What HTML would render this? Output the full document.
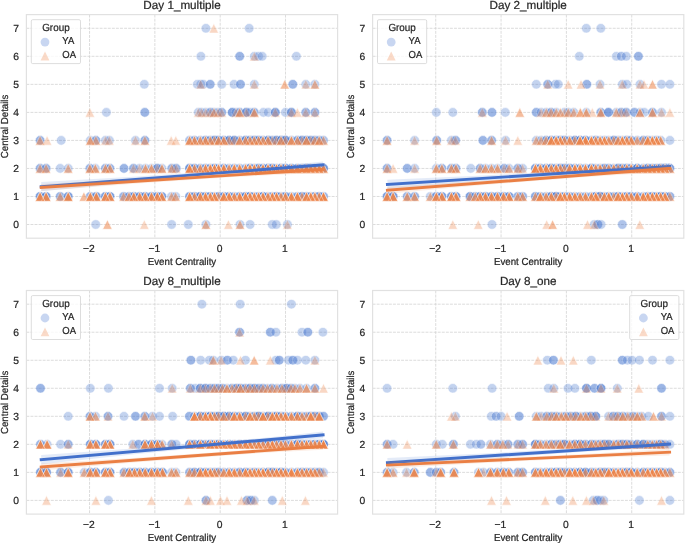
<!DOCTYPE html>
<html><head><meta charset="utf-8"><title>Central Details vs Event Centrality</title>
<style>html,body{margin:0;padding:0;background:#fff}svg{display:block}</style></head>
<body>
<svg width="685" height="543" viewBox="0 0 685 543" font-family="'Liberation Sans', sans-serif" fill="#262626" text-rendering="geometricPrecision">
<rect width="685" height="543" fill="#fff"/>
<g>
<path d="M89.54 14.60V238.20M154.87 14.60V238.20M220.20 14.60V238.20M285.53 14.60V238.20M26.40 224.50H337.60M26.40 196.47H337.60M26.40 168.44H337.60M26.40 140.41H337.60M26.40 112.38H337.60M26.40 84.35H337.60M26.40 56.32H337.60M26.40 28.29H337.60" stroke="#d3d3d3" stroke-width="0.8" stroke-dasharray="2.95 1.12" fill="none"/>
<g fill="#4878d0" stroke="#fff" stroke-width="0.6" stroke-linejoin="miter"><circle cx="95.7" cy="224.5" r="4.8" opacity="0.32"/><circle cx="171.6" cy="224.5" r="4.8" opacity="0.32"/><circle cx="188.3" cy="224.5" r="4.8" opacity="0.32"/><circle cx="205.9" cy="224.5" r="4.8" opacity="0.32"/><circle cx="240.0" cy="224.5" r="4.8" opacity="0.32"/><circle cx="250.1" cy="224.5" r="4.8" opacity="0.32"/><circle cx="272.3" cy="224.5" r="4.8" opacity="0.32"/><circle cx="276.3" cy="224.5" r="4.8" opacity="0.32"/><circle cx="287.4" cy="224.5" r="4.8" opacity="0.32"/><circle cx="40.1" cy="196.5" r="4.8" opacity="0.69"/><circle cx="46.1" cy="196.5" r="4.8" opacity="0.69"/><circle cx="60.2" cy="196.5" r="4.8" opacity="0.54"/><circle cx="68.2" cy="196.5" r="4.8" opacity="0.69"/><circle cx="90.3" cy="196.5" r="4.8" opacity="0.54"/><circle cx="96.3" cy="196.5" r="4.8" opacity="0.69"/><circle cx="105.4" cy="196.5" r="4.8" opacity="0.69"/><circle cx="110.0" cy="196.5" r="4.8" opacity="0.69"/><circle cx="123.6" cy="196.5" r="4.8" opacity="0.54"/><circle cx="129.0" cy="196.5" r="4.8" opacity="0.54"/><circle cx="133.8" cy="196.5" r="4.8" opacity="0.69"/><circle cx="139.7" cy="196.5" r="4.8" opacity="0.69"/><circle cx="145.2" cy="196.5" r="4.8" opacity="0.69"/><circle cx="151.5" cy="196.5" r="4.8" opacity="0.69"/><circle cx="157.3" cy="196.5" r="4.8" opacity="0.69"/><circle cx="161.8" cy="196.5" r="4.8" opacity="0.69"/><circle cx="171.5" cy="196.5" r="4.8" opacity="0.32"/><circle cx="175.7" cy="196.5" r="4.8" opacity="0.32"/><circle cx="189.6" cy="196.5" r="4.8" opacity="0.69"/><circle cx="194.5" cy="196.5" r="4.8" opacity="0.62"/><circle cx="200.3" cy="196.5" r="4.8" opacity="0.85"/><circle cx="205.5" cy="196.5" r="4.8" opacity="0.69"/><circle cx="210.3" cy="196.5" r="4.8" opacity="0.69"/><circle cx="214.5" cy="196.5" r="4.8" opacity="0.44"/><circle cx="218.6" cy="196.5" r="4.8" opacity="0.62"/><circle cx="223.8" cy="196.5" r="4.8" opacity="0.69"/><circle cx="229.1" cy="196.5" r="4.8" opacity="0.69"/><circle cx="234.3" cy="196.5" r="4.8" opacity="0.44"/><circle cx="239.7" cy="196.5" r="4.8" opacity="0.62"/><circle cx="245.6" cy="196.5" r="4.8" opacity="0.79"/><circle cx="250.0" cy="196.5" r="4.8" opacity="0.85"/><circle cx="254.3" cy="196.5" r="4.8" opacity="0.44"/><circle cx="258.6" cy="196.5" r="4.8" opacity="0.54"/><circle cx="263.0" cy="196.5" r="4.8" opacity="0.79"/><circle cx="268.0" cy="196.5" r="4.8" opacity="0.44"/><circle cx="272.3" cy="196.5" r="4.8" opacity="0.54"/><circle cx="276.5" cy="196.5" r="4.8" opacity="0.79"/><circle cx="281.0" cy="196.5" r="4.8" opacity="0.44"/><circle cx="285.4" cy="196.5" r="4.8" opacity="0.69"/><circle cx="291.4" cy="196.5" r="4.8" opacity="0.44"/><circle cx="297.4" cy="196.5" r="4.8" opacity="0.54"/><circle cx="302.0" cy="196.5" r="4.8" opacity="0.69"/><circle cx="306.5" cy="196.5" r="4.8" opacity="0.62"/><circle cx="310.8" cy="196.5" r="4.8" opacity="0.54"/><circle cx="314.9" cy="196.5" r="4.8" opacity="0.62"/><circle cx="319.2" cy="196.5" r="4.8" opacity="0.69"/><circle cx="323.5" cy="196.5" r="4.8" opacity="0.54"/><circle cx="40.1" cy="168.4" r="4.8" opacity="0.54"/><circle cx="46.1" cy="168.4" r="4.8" opacity="0.54"/><circle cx="60.2" cy="168.4" r="4.8" opacity="0.32"/><circle cx="68.2" cy="168.4" r="4.8" opacity="0.32"/><circle cx="89.9" cy="168.4" r="4.8" opacity="0.54"/><circle cx="95.3" cy="168.4" r="4.8" opacity="0.32"/><circle cx="105.4" cy="168.4" r="4.8" opacity="0.54"/><circle cx="110.0" cy="168.4" r="4.8" opacity="0.54"/><circle cx="124.0" cy="168.4" r="4.8" opacity="0.54"/><circle cx="133.5" cy="168.4" r="4.8" opacity="0.54"/><circle cx="139.5" cy="168.4" r="4.8" opacity="0.32"/><circle cx="145.5" cy="168.4" r="4.8" opacity="0.32"/><circle cx="151.5" cy="168.4" r="4.8" opacity="0.32"/><circle cx="157.3" cy="168.4" r="4.8" opacity="0.69"/><circle cx="162.0" cy="168.4" r="4.8" opacity="0.32"/><circle cx="171.8" cy="168.4" r="4.8" opacity="0.54"/><circle cx="176.2" cy="168.4" r="4.8" opacity="0.54"/><circle cx="189.6" cy="168.4" r="4.8" opacity="0.79"/><circle cx="194.5" cy="168.4" r="4.8" opacity="0.69"/><circle cx="200.3" cy="168.4" r="4.8" opacity="0.54"/><circle cx="205.5" cy="168.4" r="4.8" opacity="0.62"/><circle cx="210.3" cy="168.4" r="4.8" opacity="0.54"/><circle cx="214.5" cy="168.4" r="4.8" opacity="0.79"/><circle cx="218.6" cy="168.4" r="4.8" opacity="0.44"/><circle cx="223.8" cy="168.4" r="4.8" opacity="0.69"/><circle cx="229.1" cy="168.4" r="4.8" opacity="0.44"/><circle cx="234.3" cy="168.4" r="4.8" opacity="0.54"/><circle cx="239.7" cy="168.4" r="4.8" opacity="0.44"/><circle cx="245.6" cy="168.4" r="4.8" opacity="0.44"/><circle cx="250.0" cy="168.4" r="4.8" opacity="0.79"/><circle cx="254.3" cy="168.4" r="4.8" opacity="0.54"/><circle cx="258.6" cy="168.4" r="4.8" opacity="0.79"/><circle cx="263.0" cy="168.4" r="4.8" opacity="0.62"/><circle cx="268.0" cy="168.4" r="4.8" opacity="0.85"/><circle cx="272.3" cy="168.4" r="4.8" opacity="0.85"/><circle cx="276.5" cy="168.4" r="4.8" opacity="0.44"/><circle cx="281.0" cy="168.4" r="4.8" opacity="0.79"/><circle cx="285.4" cy="168.4" r="4.8" opacity="0.85"/><circle cx="291.4" cy="168.4" r="4.8" opacity="0.69"/><circle cx="297.4" cy="168.4" r="4.8" opacity="0.62"/><circle cx="302.0" cy="168.4" r="4.8" opacity="0.44"/><circle cx="306.5" cy="168.4" r="4.8" opacity="0.69"/><circle cx="310.8" cy="168.4" r="4.8" opacity="0.44"/><circle cx="314.9" cy="168.4" r="4.8" opacity="0.44"/><circle cx="319.2" cy="168.4" r="4.8" opacity="0.62"/><circle cx="323.5" cy="168.4" r="4.8" opacity="0.79"/><circle cx="40.1" cy="140.4" r="4.8" opacity="0.54"/><circle cx="61.2" cy="140.4" r="4.8" opacity="0.32"/><circle cx="90.3" cy="140.4" r="4.8" opacity="0.32"/><circle cx="95.9" cy="140.4" r="4.8" opacity="0.54"/><circle cx="105.4" cy="140.4" r="4.8" opacity="0.32"/><circle cx="109.4" cy="140.4" r="4.8" opacity="0.32"/><circle cx="135.5" cy="140.4" r="4.8" opacity="0.32"/><circle cx="144.9" cy="140.4" r="4.8" opacity="0.54"/><circle cx="189.6" cy="140.4" r="4.8" opacity="0.44"/><circle cx="194.5" cy="140.4" r="4.8" opacity="0.54"/><circle cx="200.3" cy="140.4" r="4.8" opacity="0.44"/><circle cx="205.5" cy="140.4" r="4.8" opacity="0.69"/><circle cx="210.3" cy="140.4" r="4.8" opacity="0.54"/><circle cx="214.5" cy="140.4" r="4.8" opacity="0.85"/><circle cx="218.6" cy="140.4" r="4.8" opacity="0.79"/><circle cx="223.8" cy="140.4" r="4.8" opacity="0.69"/><circle cx="229.1" cy="140.4" r="4.8" opacity="0.79"/><circle cx="234.3" cy="140.4" r="4.8" opacity="0.79"/><circle cx="239.7" cy="140.4" r="4.8" opacity="0.44"/><circle cx="245.6" cy="140.4" r="4.8" opacity="0.85"/><circle cx="250.0" cy="140.4" r="4.8" opacity="0.69"/><circle cx="254.3" cy="140.4" r="4.8" opacity="0.85"/><circle cx="258.6" cy="140.4" r="4.8" opacity="0.79"/><circle cx="263.0" cy="140.4" r="4.8" opacity="0.54"/><circle cx="268.0" cy="140.4" r="4.8" opacity="0.85"/><circle cx="272.3" cy="140.4" r="4.8" opacity="0.54"/><circle cx="276.5" cy="140.4" r="4.8" opacity="0.79"/><circle cx="281.0" cy="140.4" r="4.8" opacity="0.85"/><circle cx="285.4" cy="140.4" r="4.8" opacity="0.85"/><circle cx="291.4" cy="140.4" r="4.8" opacity="0.44"/><circle cx="297.4" cy="140.4" r="4.8" opacity="0.62"/><circle cx="302.0" cy="140.4" r="4.8" opacity="0.79"/><circle cx="306.5" cy="140.4" r="4.8" opacity="0.79"/><circle cx="310.8" cy="140.4" r="4.8" opacity="0.69"/><circle cx="314.9" cy="140.4" r="4.8" opacity="0.62"/><circle cx="319.2" cy="140.4" r="4.8" opacity="0.54"/><circle cx="323.5" cy="140.4" r="4.8" opacity="0.44"/><circle cx="106.4" cy="112.4" r="4.8" opacity="0.32"/><circle cx="144.8" cy="112.4" r="4.8" opacity="0.54"/><circle cx="198.3" cy="112.4" r="4.8" opacity="0.32"/><circle cx="201.5" cy="112.4" r="4.8" opacity="0.32"/><circle cx="205.9" cy="112.4" r="4.8" opacity="0.32"/><circle cx="210.4" cy="112.4" r="4.8" opacity="0.54"/><circle cx="214.0" cy="112.4" r="4.8" opacity="0.32"/><circle cx="218.0" cy="112.4" r="4.8" opacity="0.32"/><circle cx="221.7" cy="112.4" r="4.8" opacity="0.54"/><circle cx="232.2" cy="112.4" r="4.8" opacity="0.69"/><circle cx="236.0" cy="112.4" r="4.8" opacity="0.32"/><circle cx="239.7" cy="112.4" r="4.8" opacity="0.54"/><circle cx="246.3" cy="112.4" r="4.8" opacity="0.69"/><circle cx="250.0" cy="112.4" r="4.8" opacity="0.32"/><circle cx="254.3" cy="112.4" r="4.8" opacity="0.54"/><circle cx="263.4" cy="112.4" r="4.8" opacity="0.32"/><circle cx="268.3" cy="112.4" r="4.8" opacity="0.32"/><circle cx="275.3" cy="112.4" r="4.8" opacity="0.69"/><circle cx="285.4" cy="112.4" r="4.8" opacity="0.32"/><circle cx="291.4" cy="112.4" r="4.8" opacity="0.69"/><circle cx="305.8" cy="112.4" r="4.8" opacity="0.54"/><circle cx="314.9" cy="112.4" r="4.8" opacity="0.54"/><circle cx="144.3" cy="84.3" r="4.8" opacity="0.32"/><circle cx="197.3" cy="84.3" r="4.8" opacity="0.32"/><circle cx="200.7" cy="84.3" r="4.8" opacity="0.32"/><circle cx="203.3" cy="84.3" r="4.8" opacity="0.32"/><circle cx="210.2" cy="84.3" r="4.8" opacity="0.54"/><circle cx="221.7" cy="84.3" r="4.8" opacity="0.32"/><circle cx="234.0" cy="84.3" r="4.8" opacity="0.32"/><circle cx="240.5" cy="84.3" r="4.8" opacity="0.54"/><circle cx="254.3" cy="84.3" r="4.8" opacity="0.32"/><circle cx="292.8" cy="84.3" r="4.8" opacity="0.54"/><circle cx="305.8" cy="84.3" r="4.8" opacity="0.32"/><circle cx="314.9" cy="84.3" r="4.8" opacity="0.32"/><circle cx="200.9" cy="56.3" r="4.8" opacity="0.32"/><circle cx="239.7" cy="56.3" r="4.8" opacity="0.54"/><circle cx="254.3" cy="56.3" r="4.8" opacity="0.32"/><circle cx="258.6" cy="56.3" r="4.8" opacity="0.32"/><circle cx="262.2" cy="56.3" r="4.8" opacity="0.32"/><circle cx="296.4" cy="56.3" r="4.8" opacity="0.32"/><circle cx="205.9" cy="28.3" r="4.8" opacity="0.32"/><circle cx="249.2" cy="28.3" r="4.8" opacity="0.32"/></g>
<g fill="#ee854a" stroke="#fff" stroke-width="0.6" stroke-linejoin="miter"><path d="M107.4 219.7l4.8 9.6h-9.6z" opacity="0.54"/><path d="M144.3 219.7l4.8 9.6h-9.6z" opacity="0.32"/><path d="M205.9 219.7l4.8 9.6h-9.6z" opacity="0.54"/><path d="M228.4 219.7l4.8 9.6h-9.6z" opacity="0.32"/><path d="M240.0 219.7l4.8 9.6h-9.6z" opacity="0.54"/><path d="M287.4 219.7l4.8 9.6h-9.6z" opacity="0.32"/><path d="M40.1 191.7l4.8 9.6h-9.6z" opacity="0.69"/><path d="M46.1 191.7l4.8 9.6h-9.6z" opacity="0.69"/><path d="M60.2 191.7l4.8 9.6h-9.6z" opacity="0.54"/><path d="M68.2 191.7l4.8 9.6h-9.6z" opacity="0.69"/><path d="M83.9 191.7l4.8 9.6h-9.6z" opacity="0.54"/><path d="M90.3 191.7l4.8 9.6h-9.6z" opacity="0.69"/><path d="M96.3 191.7l4.8 9.6h-9.6z" opacity="0.69"/><path d="M105.4 191.7l4.8 9.6h-9.6z" opacity="0.69"/><path d="M110.0 191.7l4.8 9.6h-9.6z" opacity="0.69"/><path d="M123.6 191.7l4.8 9.6h-9.6z" opacity="0.54"/><path d="M129.0 191.7l4.8 9.6h-9.6z" opacity="0.44"/><path d="M133.8 191.7l4.8 9.6h-9.6z" opacity="0.69"/><path d="M139.7 191.7l4.8 9.6h-9.6z" opacity="0.69"/><path d="M145.2 191.7l4.8 9.6h-9.6z" opacity="0.69"/><path d="M151.5 191.7l4.8 9.6h-9.6z" opacity="0.69"/><path d="M157.3 191.7l4.8 9.6h-9.6z" opacity="0.69"/><path d="M161.8 191.7l4.8 9.6h-9.6z" opacity="0.69"/><path d="M171.5 191.7l4.8 9.6h-9.6z" opacity="0.54"/><path d="M175.7 191.7l4.8 9.6h-9.6z" opacity="0.54"/><path d="M189.6 191.7l4.8 9.6h-9.6z" opacity="0.79"/><path d="M194.5 191.7l4.8 9.6h-9.6z" opacity="0.54"/><path d="M200.3 191.7l4.8 9.6h-9.6z" opacity="0.73"/><path d="M205.5 191.7l4.8 9.6h-9.6z" opacity="0.79"/><path d="M210.3 191.7l4.8 9.6h-9.6z" opacity="0.73"/><path d="M214.5 191.7l4.8 9.6h-9.6z" opacity="0.79"/><path d="M218.6 191.7l4.8 9.6h-9.6z" opacity="0.66"/><path d="M223.8 191.7l4.8 9.6h-9.6z" opacity="0.79"/><path d="M229.1 191.7l4.8 9.6h-9.6z" opacity="0.79"/><path d="M234.3 191.7l4.8 9.6h-9.6z" opacity="0.66"/><path d="M239.7 191.7l4.8 9.6h-9.6z" opacity="0.79"/><path d="M245.6 191.7l4.8 9.6h-9.6z" opacity="0.79"/><path d="M250.0 191.7l4.8 9.6h-9.6z" opacity="0.79"/><path d="M254.3 191.7l4.8 9.6h-9.6z" opacity="0.79"/><path d="M258.6 191.7l4.8 9.6h-9.6z" opacity="0.79"/><path d="M263.0 191.7l4.8 9.6h-9.6z" opacity="0.79"/><path d="M268.0 191.7l4.8 9.6h-9.6z" opacity="0.66"/><path d="M272.3 191.7l4.8 9.6h-9.6z" opacity="0.79"/><path d="M276.5 191.7l4.8 9.6h-9.6z" opacity="0.79"/><path d="M281.0 191.7l4.8 9.6h-9.6z" opacity="0.54"/><path d="M285.4 191.7l4.8 9.6h-9.6z" opacity="0.66"/><path d="M291.4 191.7l4.8 9.6h-9.6z" opacity="0.79"/><path d="M297.4 191.7l4.8 9.6h-9.6z" opacity="0.79"/><path d="M302.0 191.7l4.8 9.6h-9.6z" opacity="0.66"/><path d="M306.5 191.7l4.8 9.6h-9.6z" opacity="0.73"/><path d="M310.8 191.7l4.8 9.6h-9.6z" opacity="0.84"/><path d="M314.9 191.7l4.8 9.6h-9.6z" opacity="0.73"/><path d="M319.2 191.7l4.8 9.6h-9.6z" opacity="0.54"/><path d="M323.5 191.7l4.8 9.6h-9.6z" opacity="0.84"/><path d="M40.1 163.6l4.8 9.6h-9.6z" opacity="0.54"/><path d="M46.1 163.6l4.8 9.6h-9.6z" opacity="0.54"/><path d="M68.2 163.6l4.8 9.6h-9.6z" opacity="0.54"/><path d="M89.9 163.6l4.8 9.6h-9.6z" opacity="0.44"/><path d="M95.3 163.6l4.8 9.6h-9.6z" opacity="0.44"/><path d="M105.4 163.6l4.8 9.6h-9.6z" opacity="0.44"/><path d="M110.0 163.6l4.8 9.6h-9.6z" opacity="0.44"/><path d="M133.5 163.6l4.8 9.6h-9.6z" opacity="0.32"/><path d="M139.5 163.6l4.8 9.6h-9.6z" opacity="0.32"/><path d="M145.5 163.6l4.8 9.6h-9.6z" opacity="0.44"/><path d="M151.5 163.6l4.8 9.6h-9.6z" opacity="0.44"/><path d="M157.3 163.6l4.8 9.6h-9.6z" opacity="0.32"/><path d="M162.0 163.6l4.8 9.6h-9.6z" opacity="0.44"/><path d="M171.8 163.6l4.8 9.6h-9.6z" opacity="0.54"/><path d="M176.2 163.6l4.8 9.6h-9.6z" opacity="0.32"/><path d="M189.6 163.6l4.8 9.6h-9.6z" opacity="0.79"/><path d="M194.5 163.6l4.8 9.6h-9.6z" opacity="0.54"/><path d="M200.3 163.6l4.8 9.6h-9.6z" opacity="0.54"/><path d="M205.5 163.6l4.8 9.6h-9.6z" opacity="0.73"/><path d="M210.3 163.6l4.8 9.6h-9.6z" opacity="0.79"/><path d="M214.5 163.6l4.8 9.6h-9.6z" opacity="0.79"/><path d="M218.6 163.6l4.8 9.6h-9.6z" opacity="0.79"/><path d="M223.8 163.6l4.8 9.6h-9.6z" opacity="0.79"/><path d="M229.1 163.6l4.8 9.6h-9.6z" opacity="0.54"/><path d="M234.3 163.6l4.8 9.6h-9.6z" opacity="0.84"/><path d="M239.7 163.6l4.8 9.6h-9.6z" opacity="0.73"/><path d="M245.6 163.6l4.8 9.6h-9.6z" opacity="0.79"/><path d="M250.0 163.6l4.8 9.6h-9.6z" opacity="0.79"/><path d="M254.3 163.6l4.8 9.6h-9.6z" opacity="0.84"/><path d="M258.6 163.6l4.8 9.6h-9.6z" opacity="0.54"/><path d="M263.0 163.6l4.8 9.6h-9.6z" opacity="0.73"/><path d="M268.0 163.6l4.8 9.6h-9.6z" opacity="0.84"/><path d="M272.3 163.6l4.8 9.6h-9.6z" opacity="0.66"/><path d="M276.5 163.6l4.8 9.6h-9.6z" opacity="0.84"/><path d="M281.0 163.6l4.8 9.6h-9.6z" opacity="0.79"/><path d="M285.4 163.6l4.8 9.6h-9.6z" opacity="0.79"/><path d="M291.4 163.6l4.8 9.6h-9.6z" opacity="0.79"/><path d="M297.4 163.6l4.8 9.6h-9.6z" opacity="0.79"/><path d="M302.0 163.6l4.8 9.6h-9.6z" opacity="0.66"/><path d="M306.5 163.6l4.8 9.6h-9.6z" opacity="0.79"/><path d="M310.8 163.6l4.8 9.6h-9.6z" opacity="0.79"/><path d="M314.9 163.6l4.8 9.6h-9.6z" opacity="0.73"/><path d="M319.2 163.6l4.8 9.6h-9.6z" opacity="0.84"/><path d="M323.5 163.6l4.8 9.6h-9.6z" opacity="0.54"/><path d="M40.1 135.6l4.8 9.6h-9.6z" opacity="0.54"/><path d="M47.1 135.6l4.8 9.6h-9.6z" opacity="0.32"/><path d="M90.3 135.6l4.8 9.6h-9.6z" opacity="0.44"/><path d="M95.9 135.6l4.8 9.6h-9.6z" opacity="0.54"/><path d="M105.4 135.6l4.8 9.6h-9.6z" opacity="0.32"/><path d="M109.4 135.6l4.8 9.6h-9.6z" opacity="0.32"/><path d="M135.5 135.6l4.8 9.6h-9.6z" opacity="0.32"/><path d="M144.9 135.6l4.8 9.6h-9.6z" opacity="0.54"/><path d="M171.2 135.6l4.8 9.6h-9.6z" opacity="0.32"/><path d="M175.8 135.6l4.8 9.6h-9.6z" opacity="0.32"/><path d="M189.6 135.6l4.8 9.6h-9.6z" opacity="0.60"/><path d="M194.5 135.6l4.8 9.6h-9.6z" opacity="0.60"/><path d="M200.3 135.6l4.8 9.6h-9.6z" opacity="0.54"/><path d="M205.5 135.6l4.8 9.6h-9.6z" opacity="0.60"/><path d="M210.3 135.6l4.8 9.6h-9.6z" opacity="0.48"/><path d="M214.5 135.6l4.8 9.6h-9.6z" opacity="0.66"/><path d="M218.6 135.6l4.8 9.6h-9.6z" opacity="0.54"/><path d="M223.8 135.6l4.8 9.6h-9.6z" opacity="0.60"/><path d="M229.1 135.6l4.8 9.6h-9.6z" opacity="0.54"/><path d="M234.3 135.6l4.8 9.6h-9.6z" opacity="0.42"/><path d="M239.7 135.6l4.8 9.6h-9.6z" opacity="0.54"/><path d="M245.6 135.6l4.8 9.6h-9.6z" opacity="0.54"/><path d="M250.0 135.6l4.8 9.6h-9.6z" opacity="0.54"/><path d="M254.3 135.6l4.8 9.6h-9.6z" opacity="0.54"/><path d="M258.6 135.6l4.8 9.6h-9.6z" opacity="0.54"/><path d="M263.0 135.6l4.8 9.6h-9.6z" opacity="0.54"/><path d="M268.0 135.6l4.8 9.6h-9.6z" opacity="0.54"/><path d="M272.3 135.6l4.8 9.6h-9.6z" opacity="0.42"/><path d="M276.5 135.6l4.8 9.6h-9.6z" opacity="0.42"/><path d="M281.0 135.6l4.8 9.6h-9.6z" opacity="0.48"/><path d="M285.4 135.6l4.8 9.6h-9.6z" opacity="0.54"/><path d="M291.4 135.6l4.8 9.6h-9.6z" opacity="0.60"/><path d="M297.4 135.6l4.8 9.6h-9.6z" opacity="0.48"/><path d="M302.0 135.6l4.8 9.6h-9.6z" opacity="0.42"/><path d="M306.5 135.6l4.8 9.6h-9.6z" opacity="0.54"/><path d="M310.8 135.6l4.8 9.6h-9.6z" opacity="0.42"/><path d="M314.9 135.6l4.8 9.6h-9.6z" opacity="0.66"/><path d="M319.2 135.6l4.8 9.6h-9.6z" opacity="0.48"/><path d="M323.5 135.6l4.8 9.6h-9.6z" opacity="0.54"/><path d="M89.9 107.6l4.8 9.6h-9.6z" opacity="0.32"/><path d="M198.3 107.6l4.8 9.6h-9.6z" opacity="0.32"/><path d="M201.5 107.6l4.8 9.6h-9.6z" opacity="0.32"/><path d="M205.9 107.6l4.8 9.6h-9.6z" opacity="0.32"/><path d="M210.4 107.6l4.8 9.6h-9.6z" opacity="0.32"/><path d="M214.0 107.6l4.8 9.6h-9.6z" opacity="0.54"/><path d="M218.0 107.6l4.8 9.6h-9.6z" opacity="0.32"/><path d="M221.7 107.6l4.8 9.6h-9.6z" opacity="0.32"/><path d="M236.0 107.6l4.8 9.6h-9.6z" opacity="0.32"/><path d="M239.7 107.6l4.8 9.6h-9.6z" opacity="0.44"/><path d="M246.3 107.6l4.8 9.6h-9.6z" opacity="0.32"/><path d="M254.3 107.6l4.8 9.6h-9.6z" opacity="0.44"/><path d="M275.3 107.6l4.8 9.6h-9.6z" opacity="0.32"/><path d="M291.4 107.6l4.8 9.6h-9.6z" opacity="0.32"/><path d="M297.4 107.6l4.8 9.6h-9.6z" opacity="0.32"/><path d="M305.8 107.6l4.8 9.6h-9.6z" opacity="0.32"/><path d="M314.9 107.6l4.8 9.6h-9.6z" opacity="0.32"/><path d="M200.7 79.5l4.8 9.6h-9.6z" opacity="0.32"/><path d="M254.3 79.5l4.8 9.6h-9.6z" opacity="0.32"/><path d="M284.7 79.5l4.8 9.6h-9.6z" opacity="0.54"/><path d="M305.8 79.5l4.8 9.6h-9.6z" opacity="0.32"/><path d="M314.9 79.5l4.8 9.6h-9.6z" opacity="0.54"/><path d="M254.3 51.5l4.8 9.6h-9.6z" opacity="0.32"/><path d="M213.8 23.5l4.8 9.6h-9.6z" opacity="0.32"/><path d="M254.3 107.6l4.8 9.6h-9.6z" opacity="0.44"/><path d="M239.7 107.6l4.8 9.6h-9.6z" opacity="0.44"/><path d="M319.2 135.6l4.8 9.6h-9.6z" opacity="0.48"/><path d="M306.5 135.6l4.8 9.6h-9.6z" opacity="0.54"/><path d="M297.4 135.6l4.8 9.6h-9.6z" opacity="0.48"/><path d="M291.4 135.6l4.8 9.6h-9.6z" opacity="0.60"/><path d="M281.0 135.6l4.8 9.6h-9.6z" opacity="0.48"/><path d="M268.0 135.6l4.8 9.6h-9.6z" opacity="0.54"/><path d="M263.0 135.6l4.8 9.6h-9.6z" opacity="0.54"/><path d="M258.6 135.6l4.8 9.6h-9.6z" opacity="0.54"/><path d="M254.3 135.6l4.8 9.6h-9.6z" opacity="0.54"/><path d="M250.0 135.6l4.8 9.6h-9.6z" opacity="0.54"/><path d="M245.6 135.6l4.8 9.6h-9.6z" opacity="0.54"/><path d="M239.7 135.6l4.8 9.6h-9.6z" opacity="0.54"/><path d="M223.8 135.6l4.8 9.6h-9.6z" opacity="0.60"/><path d="M218.6 135.6l4.8 9.6h-9.6z" opacity="0.54"/><path d="M210.3 135.6l4.8 9.6h-9.6z" opacity="0.48"/><path d="M205.5 135.6l4.8 9.6h-9.6z" opacity="0.60"/><path d="M200.3 135.6l4.8 9.6h-9.6z" opacity="0.54"/><path d="M194.5 135.6l4.8 9.6h-9.6z" opacity="0.60"/><path d="M189.6 135.6l4.8 9.6h-9.6z" opacity="0.60"/><path d="M90.3 135.6l4.8 9.6h-9.6z" opacity="0.44"/><path d="M323.5 163.6l4.8 9.6h-9.6z" opacity="0.54"/><path d="M319.2 163.6l4.8 9.6h-9.6z" opacity="0.84"/><path d="M314.9 163.6l4.8 9.6h-9.6z" opacity="0.73"/><path d="M310.8 163.6l4.8 9.6h-9.6z" opacity="0.79"/><path d="M306.5 163.6l4.8 9.6h-9.6z" opacity="0.79"/><path d="M297.4 163.6l4.8 9.6h-9.6z" opacity="0.79"/><path d="M291.4 163.6l4.8 9.6h-9.6z" opacity="0.79"/><path d="M285.4 163.6l4.8 9.6h-9.6z" opacity="0.79"/><path d="M281.0 163.6l4.8 9.6h-9.6z" opacity="0.79"/><path d="M276.5 163.6l4.8 9.6h-9.6z" opacity="0.84"/><path d="M272.3 163.6l4.8 9.6h-9.6z" opacity="0.66"/><path d="M268.0 163.6l4.8 9.6h-9.6z" opacity="0.84"/><path d="M263.0 163.6l4.8 9.6h-9.6z" opacity="0.73"/><path d="M258.6 163.6l4.8 9.6h-9.6z" opacity="0.54"/><path d="M254.3 163.6l4.8 9.6h-9.6z" opacity="0.84"/><path d="M250.0 163.6l4.8 9.6h-9.6z" opacity="0.79"/><path d="M245.6 163.6l4.8 9.6h-9.6z" opacity="0.79"/><path d="M239.7 163.6l4.8 9.6h-9.6z" opacity="0.73"/><path d="M234.3 163.6l4.8 9.6h-9.6z" opacity="0.84"/><path d="M229.1 163.6l4.8 9.6h-9.6z" opacity="0.54"/><path d="M223.8 163.6l4.8 9.6h-9.6z" opacity="0.79"/><path d="M218.6 163.6l4.8 9.6h-9.6z" opacity="0.79"/><path d="M214.5 163.6l4.8 9.6h-9.6z" opacity="0.79"/><path d="M210.3 163.6l4.8 9.6h-9.6z" opacity="0.79"/><path d="M205.5 163.6l4.8 9.6h-9.6z" opacity="0.73"/><path d="M200.3 163.6l4.8 9.6h-9.6z" opacity="0.54"/><path d="M194.5 163.6l4.8 9.6h-9.6z" opacity="0.54"/><path d="M189.6 163.6l4.8 9.6h-9.6z" opacity="0.79"/><path d="M162.0 163.6l4.8 9.6h-9.6z" opacity="0.44"/><path d="M151.5 163.6l4.8 9.6h-9.6z" opacity="0.44"/><path d="M145.5 163.6l4.8 9.6h-9.6z" opacity="0.44"/><path d="M110.0 163.6l4.8 9.6h-9.6z" opacity="0.44"/><path d="M105.4 163.6l4.8 9.6h-9.6z" opacity="0.44"/><path d="M95.3 163.6l4.8 9.6h-9.6z" opacity="0.44"/><path d="M89.9 163.6l4.8 9.6h-9.6z" opacity="0.44"/><path d="M323.5 191.7l4.8 9.6h-9.6z" opacity="0.84"/><path d="M319.2 191.7l4.8 9.6h-9.6z" opacity="0.54"/><path d="M314.9 191.7l4.8 9.6h-9.6z" opacity="0.73"/><path d="M310.8 191.7l4.8 9.6h-9.6z" opacity="0.84"/><path d="M306.5 191.7l4.8 9.6h-9.6z" opacity="0.73"/><path d="M297.4 191.7l4.8 9.6h-9.6z" opacity="0.79"/><path d="M291.4 191.7l4.8 9.6h-9.6z" opacity="0.79"/><path d="M285.4 191.7l4.8 9.6h-9.6z" opacity="0.66"/><path d="M281.0 191.7l4.8 9.6h-9.6z" opacity="0.54"/><path d="M276.5 191.7l4.8 9.6h-9.6z" opacity="0.79"/><path d="M272.3 191.7l4.8 9.6h-9.6z" opacity="0.79"/><path d="M268.0 191.7l4.8 9.6h-9.6z" opacity="0.66"/><path d="M263.0 191.7l4.8 9.6h-9.6z" opacity="0.79"/><path d="M258.6 191.7l4.8 9.6h-9.6z" opacity="0.79"/><path d="M254.3 191.7l4.8 9.6h-9.6z" opacity="0.79"/><path d="M250.0 191.7l4.8 9.6h-9.6z" opacity="0.79"/><path d="M245.6 191.7l4.8 9.6h-9.6z" opacity="0.79"/><path d="M239.7 191.7l4.8 9.6h-9.6z" opacity="0.79"/><path d="M234.3 191.7l4.8 9.6h-9.6z" opacity="0.66"/><path d="M229.1 191.7l4.8 9.6h-9.6z" opacity="0.79"/><path d="M223.8 191.7l4.8 9.6h-9.6z" opacity="0.79"/><path d="M214.5 191.7l4.8 9.6h-9.6z" opacity="0.79"/><path d="M210.3 191.7l4.8 9.6h-9.6z" opacity="0.73"/><path d="M205.5 191.7l4.8 9.6h-9.6z" opacity="0.79"/><path d="M200.3 191.7l4.8 9.6h-9.6z" opacity="0.73"/><path d="M194.5 191.7l4.8 9.6h-9.6z" opacity="0.54"/><path d="M189.6 191.7l4.8 9.6h-9.6z" opacity="0.79"/><path d="M161.8 191.7l4.8 9.6h-9.6z" opacity="0.69"/><path d="M157.3 191.7l4.8 9.6h-9.6z" opacity="0.69"/><path d="M151.5 191.7l4.8 9.6h-9.6z" opacity="0.69"/><path d="M145.2 191.7l4.8 9.6h-9.6z" opacity="0.69"/><path d="M139.7 191.7l4.8 9.6h-9.6z" opacity="0.69"/><path d="M133.8 191.7l4.8 9.6h-9.6z" opacity="0.69"/><path d="M129.0 191.7l4.8 9.6h-9.6z" opacity="0.44"/><path d="M110.0 191.7l4.8 9.6h-9.6z" opacity="0.69"/><path d="M105.4 191.7l4.8 9.6h-9.6z" opacity="0.69"/><path d="M96.3 191.7l4.8 9.6h-9.6z" opacity="0.69"/><path d="M90.3 191.7l4.8 9.6h-9.6z" opacity="0.69"/><path d="M68.2 191.7l4.8 9.6h-9.6z" opacity="0.69"/><path d="M46.1 191.7l4.8 9.6h-9.6z" opacity="0.69"/><path d="M40.1 191.7l4.8 9.6h-9.6z" opacity="0.69"/></g>
<g fill="none" stroke="#fff" stroke-width="0.6" stroke-opacity="0.15"><path d="M40.1 191.7l4.8 9.6h-9.6z"/><path d="M46.1 191.7l4.8 9.6h-9.6z"/><path d="M68.2 191.7l4.8 9.6h-9.6z"/><path d="M90.3 191.7l4.8 9.6h-9.6z"/><path d="M96.3 191.7l4.8 9.6h-9.6z"/><path d="M105.4 191.7l4.8 9.6h-9.6z"/><path d="M110.0 191.7l4.8 9.6h-9.6z"/><path d="M129.0 191.7l4.8 9.6h-9.6z"/><path d="M133.8 191.7l4.8 9.6h-9.6z"/><path d="M139.7 191.7l4.8 9.6h-9.6z"/><path d="M145.2 191.7l4.8 9.6h-9.6z"/><path d="M151.5 191.7l4.8 9.6h-9.6z"/><path d="M157.3 191.7l4.8 9.6h-9.6z"/><path d="M161.8 191.7l4.8 9.6h-9.6z"/><path d="M189.6 191.7l4.8 9.6h-9.6z"/><path d="M194.5 191.7l4.8 9.6h-9.6z"/><path d="M200.3 191.7l4.8 9.6h-9.6z"/><path d="M205.5 191.7l4.8 9.6h-9.6z"/><path d="M210.3 191.7l4.8 9.6h-9.6z"/><path d="M214.5 191.7l4.8 9.6h-9.6z"/><path d="M223.8 191.7l4.8 9.6h-9.6z"/><path d="M229.1 191.7l4.8 9.6h-9.6z"/><path d="M234.3 191.7l4.8 9.6h-9.6z"/><path d="M239.7 191.7l4.8 9.6h-9.6z"/><path d="M245.6 191.7l4.8 9.6h-9.6z"/><path d="M250.0 191.7l4.8 9.6h-9.6z"/><path d="M254.3 191.7l4.8 9.6h-9.6z"/><path d="M258.6 191.7l4.8 9.6h-9.6z"/><path d="M263.0 191.7l4.8 9.6h-9.6z"/><path d="M268.0 191.7l4.8 9.6h-9.6z"/><path d="M272.3 191.7l4.8 9.6h-9.6z"/><path d="M276.5 191.7l4.8 9.6h-9.6z"/><path d="M281.0 191.7l4.8 9.6h-9.6z"/><path d="M285.4 191.7l4.8 9.6h-9.6z"/><path d="M291.4 191.7l4.8 9.6h-9.6z"/><path d="M297.4 191.7l4.8 9.6h-9.6z"/><path d="M306.5 191.7l4.8 9.6h-9.6z"/><path d="M310.8 191.7l4.8 9.6h-9.6z"/><path d="M314.9 191.7l4.8 9.6h-9.6z"/><path d="M319.2 191.7l4.8 9.6h-9.6z"/><path d="M323.5 191.7l4.8 9.6h-9.6z"/><path d="M89.9 163.6l4.8 9.6h-9.6z"/><path d="M95.3 163.6l4.8 9.6h-9.6z"/><path d="M105.4 163.6l4.8 9.6h-9.6z"/><path d="M110.0 163.6l4.8 9.6h-9.6z"/><path d="M145.5 163.6l4.8 9.6h-9.6z"/><path d="M151.5 163.6l4.8 9.6h-9.6z"/><path d="M162.0 163.6l4.8 9.6h-9.6z"/><path d="M189.6 163.6l4.8 9.6h-9.6z"/><path d="M194.5 163.6l4.8 9.6h-9.6z"/><path d="M200.3 163.6l4.8 9.6h-9.6z"/><path d="M205.5 163.6l4.8 9.6h-9.6z"/><path d="M210.3 163.6l4.8 9.6h-9.6z"/><path d="M214.5 163.6l4.8 9.6h-9.6z"/><path d="M218.6 163.6l4.8 9.6h-9.6z"/><path d="M223.8 163.6l4.8 9.6h-9.6z"/><path d="M229.1 163.6l4.8 9.6h-9.6z"/><path d="M234.3 163.6l4.8 9.6h-9.6z"/><path d="M239.7 163.6l4.8 9.6h-9.6z"/><path d="M245.6 163.6l4.8 9.6h-9.6z"/><path d="M250.0 163.6l4.8 9.6h-9.6z"/><path d="M254.3 163.6l4.8 9.6h-9.6z"/><path d="M258.6 163.6l4.8 9.6h-9.6z"/><path d="M263.0 163.6l4.8 9.6h-9.6z"/><path d="M268.0 163.6l4.8 9.6h-9.6z"/><path d="M272.3 163.6l4.8 9.6h-9.6z"/><path d="M276.5 163.6l4.8 9.6h-9.6z"/><path d="M281.0 163.6l4.8 9.6h-9.6z"/><path d="M285.4 163.6l4.8 9.6h-9.6z"/><path d="M291.4 163.6l4.8 9.6h-9.6z"/><path d="M297.4 163.6l4.8 9.6h-9.6z"/><path d="M306.5 163.6l4.8 9.6h-9.6z"/><path d="M310.8 163.6l4.8 9.6h-9.6z"/><path d="M314.9 163.6l4.8 9.6h-9.6z"/><path d="M319.2 163.6l4.8 9.6h-9.6z"/><path d="M323.5 163.6l4.8 9.6h-9.6z"/><path d="M90.3 135.6l4.8 9.6h-9.6z"/><path d="M189.6 135.6l4.8 9.6h-9.6z"/><path d="M194.5 135.6l4.8 9.6h-9.6z"/><path d="M200.3 135.6l4.8 9.6h-9.6z"/><path d="M205.5 135.6l4.8 9.6h-9.6z"/><path d="M210.3 135.6l4.8 9.6h-9.6z"/><path d="M218.6 135.6l4.8 9.6h-9.6z"/><path d="M223.8 135.6l4.8 9.6h-9.6z"/><path d="M239.7 135.6l4.8 9.6h-9.6z"/><path d="M245.6 135.6l4.8 9.6h-9.6z"/><path d="M250.0 135.6l4.8 9.6h-9.6z"/><path d="M254.3 135.6l4.8 9.6h-9.6z"/><path d="M258.6 135.6l4.8 9.6h-9.6z"/><path d="M263.0 135.6l4.8 9.6h-9.6z"/><path d="M268.0 135.6l4.8 9.6h-9.6z"/><path d="M281.0 135.6l4.8 9.6h-9.6z"/><path d="M291.4 135.6l4.8 9.6h-9.6z"/><path d="M297.4 135.6l4.8 9.6h-9.6z"/><path d="M306.5 135.6l4.8 9.6h-9.6z"/><path d="M319.2 135.6l4.8 9.6h-9.6z"/><path d="M239.7 107.6l4.8 9.6h-9.6z"/><path d="M254.3 107.6l4.8 9.6h-9.6z"/></g>
<path d="M41.2 182.1L137.2 176.4L233.3 169.9L278.2 165.9L323.1 161.5L323.1 168.3L278.2 170.9L233.3 173.9L137.2 182.2L41.2 191.3Z" fill="#4878d0" fill-opacity="0.15"/>
<path d="M41.2 186.7L323.1 164.9" stroke="#4270cb" stroke-width="2.9" stroke-linecap="square" fill="none"/>
<path d="M41.2 184.1L137.2 179.1L233.3 173.1L278.2 169.7L323.1 165.9L323.1 172.7L278.2 174.7L233.3 177.1L137.2 183.5L41.2 191.0Z" fill="#ee854a" fill-opacity="0.15"/>
<path d="M41.2 187.5L323.1 169.3" stroke="#ea7f44" stroke-width="2.9" stroke-linecap="square" fill="none"/>
<rect x="26.4" y="14.6" width="311.2" height="223.6" fill="none" stroke="#e1e1e1" stroke-width="1.2"/>
<text transform="translate(88.94 251.80) scale(1.0,1.0)" font-size="10.3" text-anchor="middle" stroke="#262626" stroke-width="0.22">−2</text>
<text transform="translate(154.27 251.80) scale(1.0,1.0)" font-size="10.3" text-anchor="middle" stroke="#262626" stroke-width="0.22">−1</text>
<text transform="translate(219.60 251.80) scale(1.0,1.0)" font-size="10.3" text-anchor="middle" stroke="#262626" stroke-width="0.22">0</text>
<text transform="translate(284.93 251.80) scale(1.0,1.0)" font-size="10.3" text-anchor="middle" stroke="#262626" stroke-width="0.22">1</text>
<text transform="translate(19.10 228.25) scale(1.0,1.0)" font-size="10.3" text-anchor="end" stroke="#262626" stroke-width="0.22">0</text>
<text transform="translate(19.10 200.22) scale(1.0,1.0)" font-size="10.3" text-anchor="end" stroke="#262626" stroke-width="0.22">1</text>
<text transform="translate(19.10 172.19) scale(1.0,1.0)" font-size="10.3" text-anchor="end" stroke="#262626" stroke-width="0.22">2</text>
<text transform="translate(19.10 144.16) scale(1.0,1.0)" font-size="10.3" text-anchor="end" stroke="#262626" stroke-width="0.22">3</text>
<text transform="translate(19.10 116.13) scale(1.0,1.0)" font-size="10.3" text-anchor="end" stroke="#262626" stroke-width="0.22">4</text>
<text transform="translate(19.10 88.10) scale(1.0,1.0)" font-size="10.3" text-anchor="end" stroke="#262626" stroke-width="0.22">5</text>
<text transform="translate(19.10 60.07) scale(1.0,1.0)" font-size="10.3" text-anchor="end" stroke="#262626" stroke-width="0.22">6</text>
<text transform="translate(19.10 32.04) scale(1.0,1.0)" font-size="10.3" text-anchor="end" stroke="#262626" stroke-width="0.22">7</text>
<text transform="translate(182.00 264.80) scale(1.0,1.05)" font-size="9.7" text-anchor="middle" stroke="#262626" stroke-width="0.22">Event Centrality</text>
<text transform="translate(8.10 126.40) rotate(-90) scale(1.0,1.05)" font-size="9.7" text-anchor="middle" stroke="#262626" stroke-width="0.22">Central Details</text>
<text transform="translate(182.00 8.80) scale(1.0,1.0)" font-size="11.7" text-anchor="middle" stroke="#262626" stroke-width="0.22">Day 1_multiple</text>
<rect x="31.3" y="19.7" width="49.2" height="43.9" rx="1.4" fill="#fff" fill-opacity="0.8" stroke="#d9d9d9" stroke-width="0.9"/>
<text transform="translate(55.90 30.90) scale(1.0,1.05)" font-size="9.9" text-anchor="middle" stroke="#262626" stroke-width="0.22">Group</text>
<circle cx="45.0" cy="42.1" r="4.4" fill="#4878d0" fill-opacity="0.3"/>
<text transform="translate(62.30 43.80) scale(1.0,1.06)" font-size="9.5" text-anchor="start" stroke="#262626" stroke-width="0.22">YA</text>
<path d="M45.0 51.6L49.4 60.4H40.6Z" fill="#ee854a" fill-opacity="0.3"/>
<text transform="translate(62.30 57.70) scale(1.0,1.06)" font-size="9.5" text-anchor="start" stroke="#262626" stroke-width="0.22">OA</text>
</g>
<g>
<path d="M435.74 14.60V238.20M501.07 14.60V238.20M566.40 14.60V238.20M631.73 14.60V238.20M372.60 224.50H683.80M372.60 196.47H683.80M372.60 168.44H683.80M372.60 140.41H683.80M372.60 112.38H683.80M372.60 84.35H683.80M372.60 56.32H683.80M372.60 28.29H683.80" stroke="#d3d3d3" stroke-width="0.8" stroke-dasharray="2.95 1.12" fill="none"/>
<g fill="#4878d0" stroke="#fff" stroke-width="0.6" stroke-linejoin="miter"><circle cx="492.0" cy="224.5" r="4.8" opacity="0.32"/><circle cx="594.3" cy="224.5" r="4.8" opacity="0.32"/><circle cx="597.8" cy="224.5" r="4.8" opacity="0.54"/><circle cx="601.1" cy="224.5" r="4.8" opacity="0.32"/><circle cx="622.3" cy="224.5" r="4.8" opacity="0.44"/><circle cx="387.1" cy="196.5" r="4.8" opacity="0.69"/><circle cx="393.1" cy="196.5" r="4.8" opacity="0.69"/><circle cx="407.2" cy="196.5" r="4.8" opacity="0.54"/><circle cx="414.6" cy="196.5" r="4.8" opacity="0.54"/><circle cx="430.3" cy="196.5" r="4.8" opacity="0.32"/><circle cx="436.3" cy="196.5" r="4.8" opacity="0.69"/><circle cx="441.9" cy="196.5" r="4.8" opacity="0.69"/><circle cx="451.4" cy="196.5" r="4.8" opacity="0.69"/><circle cx="456.0" cy="196.5" r="4.8" opacity="0.69"/><circle cx="470.0" cy="196.5" r="4.8" opacity="0.69"/><circle cx="475.3" cy="196.5" r="4.8" opacity="0.54"/><circle cx="480.1" cy="196.5" r="4.8" opacity="0.69"/><circle cx="485.5" cy="196.5" r="4.8" opacity="0.69"/><circle cx="491.5" cy="196.5" r="4.8" opacity="0.69"/><circle cx="497.5" cy="196.5" r="4.8" opacity="0.69"/><circle cx="503.5" cy="196.5" r="4.8" opacity="0.69"/><circle cx="509.1" cy="196.5" r="4.8" opacity="0.69"/><circle cx="517.8" cy="196.5" r="4.8" opacity="0.54"/><circle cx="522.6" cy="196.5" r="4.8" opacity="0.54"/><circle cx="535.4" cy="196.5" r="4.8" opacity="0.62"/><circle cx="540.3" cy="196.5" r="4.8" opacity="0.54"/><circle cx="546.1" cy="196.5" r="4.8" opacity="0.44"/><circle cx="551.3" cy="196.5" r="4.8" opacity="0.79"/><circle cx="556.1" cy="196.5" r="4.8" opacity="0.85"/><circle cx="560.3" cy="196.5" r="4.8" opacity="0.54"/><circle cx="564.4" cy="196.5" r="4.8" opacity="0.62"/><circle cx="569.6" cy="196.5" r="4.8" opacity="0.54"/><circle cx="574.9" cy="196.5" r="4.8" opacity="0.44"/><circle cx="580.1" cy="196.5" r="4.8" opacity="0.44"/><circle cx="585.5" cy="196.5" r="4.8" opacity="0.44"/><circle cx="591.4" cy="196.5" r="4.8" opacity="0.44"/><circle cx="595.8" cy="196.5" r="4.8" opacity="0.85"/><circle cx="600.1" cy="196.5" r="4.8" opacity="0.85"/><circle cx="604.4" cy="196.5" r="4.8" opacity="0.44"/><circle cx="608.8" cy="196.5" r="4.8" opacity="0.62"/><circle cx="613.8" cy="196.5" r="4.8" opacity="0.44"/><circle cx="618.1" cy="196.5" r="4.8" opacity="0.79"/><circle cx="622.3" cy="196.5" r="4.8" opacity="0.44"/><circle cx="626.8" cy="196.5" r="4.8" opacity="0.69"/><circle cx="631.2" cy="196.5" r="4.8" opacity="0.69"/><circle cx="637.2" cy="196.5" r="4.8" opacity="0.62"/><circle cx="643.2" cy="196.5" r="4.8" opacity="0.44"/><circle cx="647.8" cy="196.5" r="4.8" opacity="0.69"/><circle cx="652.3" cy="196.5" r="4.8" opacity="0.79"/><circle cx="656.6" cy="196.5" r="4.8" opacity="0.54"/><circle cx="660.7" cy="196.5" r="4.8" opacity="0.85"/><circle cx="665.0" cy="196.5" r="4.8" opacity="0.62"/><circle cx="669.9" cy="196.5" r="4.8" opacity="0.54"/><circle cx="387.1" cy="168.4" r="4.8" opacity="0.54"/><circle cx="407.2" cy="168.4" r="4.8" opacity="0.54"/><circle cx="414.6" cy="168.4" r="4.8" opacity="0.32"/><circle cx="436.3" cy="168.4" r="4.8" opacity="0.32"/><circle cx="441.9" cy="168.4" r="4.8" opacity="0.54"/><circle cx="451.4" cy="168.4" r="4.8" opacity="0.54"/><circle cx="456.0" cy="168.4" r="4.8" opacity="0.54"/><circle cx="470.8" cy="168.4" r="4.8" opacity="0.32"/><circle cx="480.1" cy="168.4" r="4.8" opacity="0.54"/><circle cx="485.5" cy="168.4" r="4.8" opacity="0.32"/><circle cx="491.5" cy="168.4" r="4.8" opacity="0.32"/><circle cx="497.5" cy="168.4" r="4.8" opacity="0.32"/><circle cx="504.1" cy="168.4" r="4.8" opacity="0.54"/><circle cx="509.1" cy="168.4" r="4.8" opacity="0.32"/><circle cx="517.8" cy="168.4" r="4.8" opacity="0.54"/><circle cx="522.6" cy="168.4" r="4.8" opacity="0.32"/><circle cx="535.4" cy="168.4" r="4.8" opacity="0.69"/><circle cx="540.3" cy="168.4" r="4.8" opacity="0.69"/><circle cx="546.1" cy="168.4" r="4.8" opacity="0.69"/><circle cx="551.3" cy="168.4" r="4.8" opacity="0.85"/><circle cx="556.1" cy="168.4" r="4.8" opacity="0.62"/><circle cx="560.3" cy="168.4" r="4.8" opacity="0.85"/><circle cx="564.4" cy="168.4" r="4.8" opacity="0.69"/><circle cx="569.6" cy="168.4" r="4.8" opacity="0.79"/><circle cx="574.9" cy="168.4" r="4.8" opacity="0.62"/><circle cx="580.1" cy="168.4" r="4.8" opacity="0.54"/><circle cx="585.5" cy="168.4" r="4.8" opacity="0.44"/><circle cx="591.4" cy="168.4" r="4.8" opacity="0.85"/><circle cx="595.8" cy="168.4" r="4.8" opacity="0.44"/><circle cx="600.1" cy="168.4" r="4.8" opacity="0.44"/><circle cx="604.4" cy="168.4" r="4.8" opacity="0.69"/><circle cx="608.8" cy="168.4" r="4.8" opacity="0.62"/><circle cx="613.8" cy="168.4" r="4.8" opacity="0.44"/><circle cx="618.1" cy="168.4" r="4.8" opacity="0.85"/><circle cx="622.3" cy="168.4" r="4.8" opacity="0.69"/><circle cx="626.8" cy="168.4" r="4.8" opacity="0.79"/><circle cx="631.2" cy="168.4" r="4.8" opacity="0.62"/><circle cx="637.2" cy="168.4" r="4.8" opacity="0.85"/><circle cx="643.2" cy="168.4" r="4.8" opacity="0.44"/><circle cx="647.8" cy="168.4" r="4.8" opacity="0.85"/><circle cx="652.3" cy="168.4" r="4.8" opacity="0.62"/><circle cx="656.6" cy="168.4" r="4.8" opacity="0.62"/><circle cx="660.7" cy="168.4" r="4.8" opacity="0.79"/><circle cx="665.0" cy="168.4" r="4.8" opacity="0.69"/><circle cx="669.9" cy="168.4" r="4.8" opacity="0.69"/><circle cx="387.1" cy="140.4" r="4.8" opacity="0.54"/><circle cx="414.6" cy="140.4" r="4.8" opacity="0.32"/><circle cx="436.7" cy="140.4" r="4.8" opacity="0.54"/><circle cx="451.4" cy="140.4" r="4.8" opacity="0.32"/><circle cx="455.6" cy="140.4" r="4.8" opacity="0.54"/><circle cx="482.9" cy="140.4" r="4.8" opacity="0.54"/><circle cx="491.6" cy="140.4" r="4.8" opacity="0.54"/><circle cx="505.6" cy="140.4" r="4.8" opacity="0.32"/><circle cx="536.3" cy="140.4" r="4.8" opacity="0.32"/><circle cx="541.1" cy="140.4" r="4.8" opacity="0.32"/><circle cx="546.1" cy="140.4" r="4.8" opacity="0.60"/><circle cx="551.3" cy="140.4" r="4.8" opacity="0.79"/><circle cx="556.1" cy="140.4" r="4.8" opacity="0.71"/><circle cx="560.3" cy="140.4" r="4.8" opacity="0.79"/><circle cx="564.4" cy="140.4" r="4.8" opacity="0.79"/><circle cx="569.6" cy="140.4" r="4.8" opacity="0.46"/><circle cx="574.9" cy="140.4" r="4.8" opacity="0.79"/><circle cx="580.1" cy="140.4" r="4.8" opacity="0.79"/><circle cx="585.5" cy="140.4" r="4.8" opacity="0.79"/><circle cx="591.4" cy="140.4" r="4.8" opacity="0.46"/><circle cx="595.8" cy="140.4" r="4.8" opacity="0.71"/><circle cx="600.1" cy="140.4" r="4.8" opacity="0.37"/><circle cx="604.4" cy="140.4" r="4.8" opacity="0.46"/><circle cx="608.8" cy="140.4" r="4.8" opacity="0.37"/><circle cx="613.8" cy="140.4" r="4.8" opacity="0.79"/><circle cx="618.1" cy="140.4" r="4.8" opacity="0.46"/><circle cx="622.3" cy="140.4" r="4.8" opacity="0.37"/><circle cx="626.8" cy="140.4" r="4.8" opacity="0.71"/><circle cx="631.2" cy="140.4" r="4.8" opacity="0.60"/><circle cx="637.2" cy="140.4" r="4.8" opacity="0.37"/><circle cx="643.2" cy="140.4" r="4.8" opacity="0.60"/><circle cx="647.8" cy="140.4" r="4.8" opacity="0.60"/><circle cx="652.3" cy="140.4" r="4.8" opacity="0.37"/><circle cx="656.6" cy="140.4" r="4.8" opacity="0.54"/><circle cx="660.7" cy="140.4" r="4.8" opacity="0.37"/><circle cx="669.9" cy="140.4" r="4.8" opacity="0.32"/><circle cx="436.3" cy="112.4" r="4.8" opacity="0.32"/><circle cx="452.8" cy="112.4" r="4.8" opacity="0.32"/><circle cx="482.3" cy="112.4" r="4.8" opacity="0.54"/><circle cx="492.0" cy="112.4" r="4.8" opacity="0.54"/><circle cx="505.3" cy="112.4" r="4.8" opacity="0.32"/><circle cx="536.3" cy="112.4" r="4.8" opacity="0.54"/><circle cx="541.1" cy="112.4" r="4.8" opacity="0.32"/><circle cx="546.3" cy="112.4" r="4.8" opacity="0.32"/><circle cx="551.1" cy="112.4" r="4.8" opacity="0.54"/><circle cx="556.3" cy="112.4" r="4.8" opacity="0.32"/><circle cx="564.4" cy="112.4" r="4.8" opacity="0.32"/><circle cx="568.3" cy="112.4" r="4.8" opacity="0.32"/><circle cx="573.8" cy="112.4" r="4.8" opacity="0.32"/><circle cx="586.3" cy="112.4" r="4.8" opacity="0.32"/><circle cx="600.8" cy="112.4" r="4.8" opacity="0.54"/><circle cx="608.4" cy="112.4" r="4.8" opacity="0.69"/><circle cx="616.3" cy="112.4" r="4.8" opacity="0.32"/><circle cx="621.3" cy="112.4" r="4.8" opacity="0.54"/><circle cx="626.3" cy="112.4" r="4.8" opacity="0.54"/><circle cx="634.4" cy="112.4" r="4.8" opacity="0.54"/><circle cx="640.0" cy="112.4" r="4.8" opacity="0.32"/><circle cx="644.3" cy="112.4" r="4.8" opacity="0.32"/><circle cx="652.5" cy="112.4" r="4.8" opacity="0.54"/><circle cx="661.5" cy="112.4" r="4.8" opacity="0.32"/><circle cx="536.3" cy="84.3" r="4.8" opacity="0.32"/><circle cx="547.7" cy="84.3" r="4.8" opacity="0.54"/><circle cx="555.3" cy="84.3" r="4.8" opacity="0.32"/><circle cx="558.3" cy="84.3" r="4.8" opacity="0.32"/><circle cx="586.8" cy="84.3" r="4.8" opacity="0.54"/><circle cx="600.0" cy="84.3" r="4.8" opacity="0.32"/><circle cx="622.3" cy="84.3" r="4.8" opacity="0.32"/><circle cx="626.8" cy="84.3" r="4.8" opacity="0.32"/><circle cx="640.0" cy="84.3" r="4.8" opacity="0.32"/><circle cx="661.5" cy="84.3" r="4.8" opacity="0.32"/><circle cx="669.9" cy="84.3" r="4.8" opacity="0.32"/><circle cx="579.3" cy="56.3" r="4.8" opacity="0.32"/><circle cx="616.3" cy="56.3" r="4.8" opacity="0.32"/><circle cx="621.3" cy="56.3" r="4.8" opacity="0.44"/><circle cx="626.3" cy="56.3" r="4.8" opacity="0.32"/><circle cx="638.4" cy="56.3" r="4.8" opacity="0.54"/><circle cx="586.3" cy="28.3" r="4.8" opacity="0.32"/><circle cx="600.8" cy="28.3" r="4.8" opacity="0.32"/></g>
<g fill="#ee854a" stroke="#fff" stroke-width="0.6" stroke-linejoin="miter"><path d="M452.8 219.7l4.8 9.6h-9.6z" opacity="0.32"/><path d="M478.3 219.7l4.8 9.6h-9.6z" opacity="0.32"/><path d="M546.7 219.7l4.8 9.6h-9.6z" opacity="0.32"/><path d="M552.6 219.7l4.8 9.6h-9.6z" opacity="0.54"/><path d="M587.5 219.7l4.8 9.6h-9.6z" opacity="0.32"/><path d="M594.3 219.7l4.8 9.6h-9.6z" opacity="0.32"/><path d="M639.8 219.7l4.8 9.6h-9.6z" opacity="0.32"/><path d="M387.1 191.7l4.8 9.6h-9.6z" opacity="0.69"/><path d="M393.1 191.7l4.8 9.6h-9.6z" opacity="0.69"/><path d="M407.2 191.7l4.8 9.6h-9.6z" opacity="0.44"/><path d="M414.6 191.7l4.8 9.6h-9.6z" opacity="0.44"/><path d="M430.3 191.7l4.8 9.6h-9.6z" opacity="0.54"/><path d="M436.3 191.7l4.8 9.6h-9.6z" opacity="0.69"/><path d="M441.9 191.7l4.8 9.6h-9.6z" opacity="0.69"/><path d="M451.4 191.7l4.8 9.6h-9.6z" opacity="0.69"/><path d="M456.0 191.7l4.8 9.6h-9.6z" opacity="0.69"/><path d="M470.0 191.7l4.8 9.6h-9.6z" opacity="0.54"/><path d="M475.3 191.7l4.8 9.6h-9.6z" opacity="0.44"/><path d="M480.1 191.7l4.8 9.6h-9.6z" opacity="0.69"/><path d="M485.5 191.7l4.8 9.6h-9.6z" opacity="0.69"/><path d="M491.5 191.7l4.8 9.6h-9.6z" opacity="0.69"/><path d="M497.5 191.7l4.8 9.6h-9.6z" opacity="0.69"/><path d="M503.5 191.7l4.8 9.6h-9.6z" opacity="0.69"/><path d="M509.1 191.7l4.8 9.6h-9.6z" opacity="0.69"/><path d="M517.8 191.7l4.8 9.6h-9.6z" opacity="0.44"/><path d="M522.6 191.7l4.8 9.6h-9.6z" opacity="0.44"/><path d="M535.4 191.7l4.8 9.6h-9.6z" opacity="0.66"/><path d="M540.3 191.7l4.8 9.6h-9.6z" opacity="0.73"/><path d="M546.1 191.7l4.8 9.6h-9.6z" opacity="0.54"/><path d="M551.3 191.7l4.8 9.6h-9.6z" opacity="0.66"/><path d="M556.1 191.7l4.8 9.6h-9.6z" opacity="0.66"/><path d="M560.3 191.7l4.8 9.6h-9.6z" opacity="0.79"/><path d="M564.4 191.7l4.8 9.6h-9.6z" opacity="0.79"/><path d="M569.6 191.7l4.8 9.6h-9.6z" opacity="0.79"/><path d="M574.9 191.7l4.8 9.6h-9.6z" opacity="0.73"/><path d="M580.1 191.7l4.8 9.6h-9.6z" opacity="0.66"/><path d="M585.5 191.7l4.8 9.6h-9.6z" opacity="0.66"/><path d="M591.4 191.7l4.8 9.6h-9.6z" opacity="0.66"/><path d="M595.8 191.7l4.8 9.6h-9.6z" opacity="0.84"/><path d="M600.1 191.7l4.8 9.6h-9.6z" opacity="0.66"/><path d="M604.4 191.7l4.8 9.6h-9.6z" opacity="0.66"/><path d="M608.8 191.7l4.8 9.6h-9.6z" opacity="0.84"/><path d="M613.8 191.7l4.8 9.6h-9.6z" opacity="0.66"/><path d="M618.1 191.7l4.8 9.6h-9.6z" opacity="0.73"/><path d="M622.3 191.7l4.8 9.6h-9.6z" opacity="0.84"/><path d="M626.8 191.7l4.8 9.6h-9.6z" opacity="0.73"/><path d="M631.2 191.7l4.8 9.6h-9.6z" opacity="0.66"/><path d="M637.2 191.7l4.8 9.6h-9.6z" opacity="0.73"/><path d="M643.2 191.7l4.8 9.6h-9.6z" opacity="0.79"/><path d="M647.8 191.7l4.8 9.6h-9.6z" opacity="0.79"/><path d="M652.3 191.7l4.8 9.6h-9.6z" opacity="0.79"/><path d="M656.6 191.7l4.8 9.6h-9.6z" opacity="0.79"/><path d="M660.7 191.7l4.8 9.6h-9.6z" opacity="0.73"/><path d="M665.0 191.7l4.8 9.6h-9.6z" opacity="0.79"/><path d="M669.9 191.7l4.8 9.6h-9.6z" opacity="0.54"/><path d="M387.1 163.6l4.8 9.6h-9.6z" opacity="0.54"/><path d="M393.1 163.6l4.8 9.6h-9.6z" opacity="0.32"/><path d="M414.6 163.6l4.8 9.6h-9.6z" opacity="0.32"/><path d="M436.3 163.6l4.8 9.6h-9.6z" opacity="0.44"/><path d="M441.9 163.6l4.8 9.6h-9.6z" opacity="0.44"/><path d="M451.4 163.6l4.8 9.6h-9.6z" opacity="0.44"/><path d="M456.0 163.6l4.8 9.6h-9.6z" opacity="0.44"/><path d="M480.1 163.6l4.8 9.6h-9.6z" opacity="0.54"/><path d="M485.5 163.6l4.8 9.6h-9.6z" opacity="0.44"/><path d="M491.5 163.6l4.8 9.6h-9.6z" opacity="0.44"/><path d="M497.5 163.6l4.8 9.6h-9.6z" opacity="0.44"/><path d="M504.1 163.6l4.8 9.6h-9.6z" opacity="0.32"/><path d="M509.1 163.6l4.8 9.6h-9.6z" opacity="0.54"/><path d="M517.8 163.6l4.8 9.6h-9.6z" opacity="0.54"/><path d="M522.6 163.6l4.8 9.6h-9.6z" opacity="0.32"/><path d="M535.4 163.6l4.8 9.6h-9.6z" opacity="0.84"/><path d="M540.3 163.6l4.8 9.6h-9.6z" opacity="0.79"/><path d="M546.1 163.6l4.8 9.6h-9.6z" opacity="0.79"/><path d="M551.3 163.6l4.8 9.6h-9.6z" opacity="0.66"/><path d="M556.1 163.6l4.8 9.6h-9.6z" opacity="0.79"/><path d="M560.3 163.6l4.8 9.6h-9.6z" opacity="0.54"/><path d="M564.4 163.6l4.8 9.6h-9.6z" opacity="0.66"/><path d="M569.6 163.6l4.8 9.6h-9.6z" opacity="0.66"/><path d="M574.9 163.6l4.8 9.6h-9.6z" opacity="0.84"/><path d="M580.1 163.6l4.8 9.6h-9.6z" opacity="0.84"/><path d="M585.5 163.6l4.8 9.6h-9.6z" opacity="0.79"/><path d="M591.4 163.6l4.8 9.6h-9.6z" opacity="0.79"/><path d="M595.8 163.6l4.8 9.6h-9.6z" opacity="0.66"/><path d="M600.1 163.6l4.8 9.6h-9.6z" opacity="0.66"/><path d="M604.4 163.6l4.8 9.6h-9.6z" opacity="0.66"/><path d="M608.8 163.6l4.8 9.6h-9.6z" opacity="0.54"/><path d="M613.8 163.6l4.8 9.6h-9.6z" opacity="0.66"/><path d="M618.1 163.6l4.8 9.6h-9.6z" opacity="0.66"/><path d="M622.3 163.6l4.8 9.6h-9.6z" opacity="0.54"/><path d="M626.8 163.6l4.8 9.6h-9.6z" opacity="0.73"/><path d="M631.2 163.6l4.8 9.6h-9.6z" opacity="0.84"/><path d="M637.2 163.6l4.8 9.6h-9.6z" opacity="0.79"/><path d="M643.2 163.6l4.8 9.6h-9.6z" opacity="0.66"/><path d="M647.8 163.6l4.8 9.6h-9.6z" opacity="0.79"/><path d="M652.3 163.6l4.8 9.6h-9.6z" opacity="0.84"/><path d="M656.6 163.6l4.8 9.6h-9.6z" opacity="0.73"/><path d="M660.7 163.6l4.8 9.6h-9.6z" opacity="0.73"/><path d="M665.0 163.6l4.8 9.6h-9.6z" opacity="0.73"/><path d="M669.9 163.6l4.8 9.6h-9.6z" opacity="0.44"/><path d="M387.1 135.6l4.8 9.6h-9.6z" opacity="0.54"/><path d="M414.6 135.6l4.8 9.6h-9.6z" opacity="0.32"/><path d="M436.7 135.6l4.8 9.6h-9.6z" opacity="0.54"/><path d="M451.4 135.6l4.8 9.6h-9.6z" opacity="0.32"/><path d="M455.6 135.6l4.8 9.6h-9.6z" opacity="0.32"/><path d="M491.6 135.6l4.8 9.6h-9.6z" opacity="0.54"/><path d="M505.6 135.6l4.8 9.6h-9.6z" opacity="0.32"/><path d="M517.8 135.6l4.8 9.6h-9.6z" opacity="0.32"/><path d="M536.3 135.6l4.8 9.6h-9.6z" opacity="0.54"/><path d="M541.1 135.6l4.8 9.6h-9.6z" opacity="0.54"/><path d="M546.1 135.6l4.8 9.6h-9.6z" opacity="0.66"/><path d="M551.3 135.6l4.8 9.6h-9.6z" opacity="0.79"/><path d="M556.1 135.6l4.8 9.6h-9.6z" opacity="0.79"/><path d="M560.3 135.6l4.8 9.6h-9.6z" opacity="0.79"/><path d="M564.4 135.6l4.8 9.6h-9.6z" opacity="0.54"/><path d="M569.6 135.6l4.8 9.6h-9.6z" opacity="0.66"/><path d="M574.9 135.6l4.8 9.6h-9.6z" opacity="0.66"/><path d="M580.1 135.6l4.8 9.6h-9.6z" opacity="0.84"/><path d="M585.5 135.6l4.8 9.6h-9.6z" opacity="0.84"/><path d="M591.4 135.6l4.8 9.6h-9.6z" opacity="0.84"/><path d="M595.8 135.6l4.8 9.6h-9.6z" opacity="0.66"/><path d="M600.1 135.6l4.8 9.6h-9.6z" opacity="0.79"/><path d="M604.4 135.6l4.8 9.6h-9.6z" opacity="0.79"/><path d="M608.8 135.6l4.8 9.6h-9.6z" opacity="0.54"/><path d="M613.8 135.6l4.8 9.6h-9.6z" opacity="0.66"/><path d="M618.1 135.6l4.8 9.6h-9.6z" opacity="0.54"/><path d="M622.3 135.6l4.8 9.6h-9.6z" opacity="0.84"/><path d="M626.8 135.6l4.8 9.6h-9.6z" opacity="0.66"/><path d="M631.2 135.6l4.8 9.6h-9.6z" opacity="0.66"/><path d="M637.2 135.6l4.8 9.6h-9.6z" opacity="0.66"/><path d="M643.2 135.6l4.8 9.6h-9.6z" opacity="0.66"/><path d="M647.8 135.6l4.8 9.6h-9.6z" opacity="0.79"/><path d="M652.3 135.6l4.8 9.6h-9.6z" opacity="0.84"/><path d="M656.6 135.6l4.8 9.6h-9.6z" opacity="0.79"/><path d="M660.7 135.6l4.8 9.6h-9.6z" opacity="0.54"/><path d="M482.3 107.6l4.8 9.6h-9.6z" opacity="0.32"/><path d="M519.8 107.6l4.8 9.6h-9.6z" opacity="0.54"/><path d="M541.1 107.6l4.8 9.6h-9.6z" opacity="0.32"/><path d="M546.3 107.6l4.8 9.6h-9.6z" opacity="0.54"/><path d="M551.1 107.6l4.8 9.6h-9.6z" opacity="0.54"/><path d="M556.3 107.6l4.8 9.6h-9.6z" opacity="0.54"/><path d="M560.4 107.6l4.8 9.6h-9.6z" opacity="0.54"/><path d="M564.4 107.6l4.8 9.6h-9.6z" opacity="0.32"/><path d="M568.3 107.6l4.8 9.6h-9.6z" opacity="0.54"/><path d="M573.8 107.6l4.8 9.6h-9.6z" opacity="0.54"/><path d="M580.3 107.6l4.8 9.6h-9.6z" opacity="0.44"/><path d="M586.3 107.6l4.8 9.6h-9.6z" opacity="0.44"/><path d="M592.3 107.6l4.8 9.6h-9.6z" opacity="0.32"/><path d="M600.8 107.6l4.8 9.6h-9.6z" opacity="0.44"/><path d="M616.3 107.6l4.8 9.6h-9.6z" opacity="0.54"/><path d="M621.3 107.6l4.8 9.6h-9.6z" opacity="0.32"/><path d="M626.3 107.6l4.8 9.6h-9.6z" opacity="0.32"/><path d="M640.0 107.6l4.8 9.6h-9.6z" opacity="0.44"/><path d="M652.5 107.6l4.8 9.6h-9.6z" opacity="0.44"/><path d="M661.5 107.6l4.8 9.6h-9.6z" opacity="0.32"/><path d="M669.9 107.6l4.8 9.6h-9.6z" opacity="0.32"/><path d="M547.7 79.5l4.8 9.6h-9.6z" opacity="0.32"/><path d="M568.2 79.5l4.8 9.6h-9.6z" opacity="0.32"/><path d="M581.0 79.5l4.8 9.6h-9.6z" opacity="0.32"/><path d="M600.0 79.5l4.8 9.6h-9.6z" opacity="0.32"/><path d="M622.3 79.5l4.8 9.6h-9.6z" opacity="0.32"/><path d="M640.0 79.5l4.8 9.6h-9.6z" opacity="0.32"/><path d="M644.0 79.5l4.8 9.6h-9.6z" opacity="0.32"/><path d="M652.5 79.5l4.8 9.6h-9.6z" opacity="0.54"/><path d="M652.5 107.6l4.8 9.6h-9.6z" opacity="0.44"/><path d="M640.0 107.6l4.8 9.6h-9.6z" opacity="0.44"/><path d="M600.8 107.6l4.8 9.6h-9.6z" opacity="0.44"/><path d="M586.3 107.6l4.8 9.6h-9.6z" opacity="0.44"/><path d="M580.3 107.6l4.8 9.6h-9.6z" opacity="0.44"/><path d="M660.7 135.6l4.8 9.6h-9.6z" opacity="0.54"/><path d="M656.6 135.6l4.8 9.6h-9.6z" opacity="0.79"/><path d="M652.3 135.6l4.8 9.6h-9.6z" opacity="0.84"/><path d="M647.8 135.6l4.8 9.6h-9.6z" opacity="0.79"/><path d="M631.2 135.6l4.8 9.6h-9.6z" opacity="0.66"/><path d="M626.8 135.6l4.8 9.6h-9.6z" opacity="0.66"/><path d="M622.3 135.6l4.8 9.6h-9.6z" opacity="0.84"/><path d="M618.1 135.6l4.8 9.6h-9.6z" opacity="0.54"/><path d="M608.8 135.6l4.8 9.6h-9.6z" opacity="0.54"/><path d="M604.4 135.6l4.8 9.6h-9.6z" opacity="0.79"/><path d="M600.1 135.6l4.8 9.6h-9.6z" opacity="0.79"/><path d="M595.8 135.6l4.8 9.6h-9.6z" opacity="0.66"/><path d="M591.4 135.6l4.8 9.6h-9.6z" opacity="0.84"/><path d="M585.5 135.6l4.8 9.6h-9.6z" opacity="0.84"/><path d="M580.1 135.6l4.8 9.6h-9.6z" opacity="0.84"/><path d="M569.6 135.6l4.8 9.6h-9.6z" opacity="0.66"/><path d="M564.4 135.6l4.8 9.6h-9.6z" opacity="0.54"/><path d="M560.3 135.6l4.8 9.6h-9.6z" opacity="0.79"/><path d="M556.1 135.6l4.8 9.6h-9.6z" opacity="0.79"/><path d="M551.3 135.6l4.8 9.6h-9.6z" opacity="0.79"/><path d="M669.9 163.6l4.8 9.6h-9.6z" opacity="0.44"/><path d="M665.0 163.6l4.8 9.6h-9.6z" opacity="0.73"/><path d="M660.7 163.6l4.8 9.6h-9.6z" opacity="0.73"/><path d="M656.6 163.6l4.8 9.6h-9.6z" opacity="0.73"/><path d="M652.3 163.6l4.8 9.6h-9.6z" opacity="0.84"/><path d="M647.8 163.6l4.8 9.6h-9.6z" opacity="0.79"/><path d="M643.2 163.6l4.8 9.6h-9.6z" opacity="0.66"/><path d="M637.2 163.6l4.8 9.6h-9.6z" opacity="0.79"/><path d="M631.2 163.6l4.8 9.6h-9.6z" opacity="0.84"/><path d="M626.8 163.6l4.8 9.6h-9.6z" opacity="0.73"/><path d="M622.3 163.6l4.8 9.6h-9.6z" opacity="0.54"/><path d="M613.8 163.6l4.8 9.6h-9.6z" opacity="0.66"/><path d="M608.8 163.6l4.8 9.6h-9.6z" opacity="0.54"/><path d="M600.1 163.6l4.8 9.6h-9.6z" opacity="0.66"/><path d="M595.8 163.6l4.8 9.6h-9.6z" opacity="0.66"/><path d="M591.4 163.6l4.8 9.6h-9.6z" opacity="0.79"/><path d="M585.5 163.6l4.8 9.6h-9.6z" opacity="0.79"/><path d="M580.1 163.6l4.8 9.6h-9.6z" opacity="0.84"/><path d="M574.9 163.6l4.8 9.6h-9.6z" opacity="0.84"/><path d="M569.6 163.6l4.8 9.6h-9.6z" opacity="0.66"/><path d="M560.3 163.6l4.8 9.6h-9.6z" opacity="0.54"/><path d="M556.1 163.6l4.8 9.6h-9.6z" opacity="0.79"/><path d="M551.3 163.6l4.8 9.6h-9.6z" opacity="0.66"/><path d="M546.1 163.6l4.8 9.6h-9.6z" opacity="0.79"/><path d="M540.3 163.6l4.8 9.6h-9.6z" opacity="0.79"/><path d="M535.4 163.6l4.8 9.6h-9.6z" opacity="0.84"/><path d="M497.5 163.6l4.8 9.6h-9.6z" opacity="0.44"/><path d="M491.5 163.6l4.8 9.6h-9.6z" opacity="0.44"/><path d="M485.5 163.6l4.8 9.6h-9.6z" opacity="0.44"/><path d="M456.0 163.6l4.8 9.6h-9.6z" opacity="0.44"/><path d="M451.4 163.6l4.8 9.6h-9.6z" opacity="0.44"/><path d="M441.9 163.6l4.8 9.6h-9.6z" opacity="0.44"/><path d="M436.3 163.6l4.8 9.6h-9.6z" opacity="0.44"/><path d="M665.0 191.7l4.8 9.6h-9.6z" opacity="0.79"/><path d="M660.7 191.7l4.8 9.6h-9.6z" opacity="0.73"/><path d="M656.6 191.7l4.8 9.6h-9.6z" opacity="0.79"/><path d="M652.3 191.7l4.8 9.6h-9.6z" opacity="0.79"/><path d="M647.8 191.7l4.8 9.6h-9.6z" opacity="0.79"/><path d="M643.2 191.7l4.8 9.6h-9.6z" opacity="0.79"/><path d="M637.2 191.7l4.8 9.6h-9.6z" opacity="0.73"/><path d="M631.2 191.7l4.8 9.6h-9.6z" opacity="0.66"/><path d="M626.8 191.7l4.8 9.6h-9.6z" opacity="0.73"/><path d="M622.3 191.7l4.8 9.6h-9.6z" opacity="0.84"/><path d="M618.1 191.7l4.8 9.6h-9.6z" opacity="0.73"/><path d="M608.8 191.7l4.8 9.6h-9.6z" opacity="0.84"/><path d="M604.4 191.7l4.8 9.6h-9.6z" opacity="0.66"/><path d="M595.8 191.7l4.8 9.6h-9.6z" opacity="0.84"/><path d="M591.4 191.7l4.8 9.6h-9.6z" opacity="0.66"/><path d="M585.5 191.7l4.8 9.6h-9.6z" opacity="0.66"/><path d="M580.1 191.7l4.8 9.6h-9.6z" opacity="0.66"/><path d="M574.9 191.7l4.8 9.6h-9.6z" opacity="0.73"/><path d="M569.6 191.7l4.8 9.6h-9.6z" opacity="0.79"/><path d="M564.4 191.7l4.8 9.6h-9.6z" opacity="0.79"/><path d="M560.3 191.7l4.8 9.6h-9.6z" opacity="0.79"/><path d="M551.3 191.7l4.8 9.6h-9.6z" opacity="0.66"/><path d="M546.1 191.7l4.8 9.6h-9.6z" opacity="0.54"/><path d="M540.3 191.7l4.8 9.6h-9.6z" opacity="0.73"/><path d="M522.6 191.7l4.8 9.6h-9.6z" opacity="0.44"/><path d="M517.8 191.7l4.8 9.6h-9.6z" opacity="0.44"/><path d="M509.1 191.7l4.8 9.6h-9.6z" opacity="0.69"/><path d="M503.5 191.7l4.8 9.6h-9.6z" opacity="0.69"/><path d="M497.5 191.7l4.8 9.6h-9.6z" opacity="0.69"/><path d="M491.5 191.7l4.8 9.6h-9.6z" opacity="0.69"/><path d="M485.5 191.7l4.8 9.6h-9.6z" opacity="0.69"/><path d="M480.1 191.7l4.8 9.6h-9.6z" opacity="0.69"/><path d="M475.3 191.7l4.8 9.6h-9.6z" opacity="0.44"/><path d="M456.0 191.7l4.8 9.6h-9.6z" opacity="0.69"/><path d="M451.4 191.7l4.8 9.6h-9.6z" opacity="0.69"/><path d="M441.9 191.7l4.8 9.6h-9.6z" opacity="0.69"/><path d="M436.3 191.7l4.8 9.6h-9.6z" opacity="0.69"/><path d="M414.6 191.7l4.8 9.6h-9.6z" opacity="0.44"/><path d="M407.2 191.7l4.8 9.6h-9.6z" opacity="0.44"/><path d="M393.1 191.7l4.8 9.6h-9.6z" opacity="0.69"/><path d="M387.1 191.7l4.8 9.6h-9.6z" opacity="0.69"/></g>
<g fill="none" stroke="#fff" stroke-width="0.6" stroke-opacity="0.15"><path d="M387.1 191.7l4.8 9.6h-9.6z"/><path d="M393.1 191.7l4.8 9.6h-9.6z"/><path d="M407.2 191.7l4.8 9.6h-9.6z"/><path d="M414.6 191.7l4.8 9.6h-9.6z"/><path d="M436.3 191.7l4.8 9.6h-9.6z"/><path d="M441.9 191.7l4.8 9.6h-9.6z"/><path d="M451.4 191.7l4.8 9.6h-9.6z"/><path d="M456.0 191.7l4.8 9.6h-9.6z"/><path d="M475.3 191.7l4.8 9.6h-9.6z"/><path d="M480.1 191.7l4.8 9.6h-9.6z"/><path d="M485.5 191.7l4.8 9.6h-9.6z"/><path d="M491.5 191.7l4.8 9.6h-9.6z"/><path d="M497.5 191.7l4.8 9.6h-9.6z"/><path d="M503.5 191.7l4.8 9.6h-9.6z"/><path d="M509.1 191.7l4.8 9.6h-9.6z"/><path d="M517.8 191.7l4.8 9.6h-9.6z"/><path d="M522.6 191.7l4.8 9.6h-9.6z"/><path d="M540.3 191.7l4.8 9.6h-9.6z"/><path d="M546.1 191.7l4.8 9.6h-9.6z"/><path d="M551.3 191.7l4.8 9.6h-9.6z"/><path d="M560.3 191.7l4.8 9.6h-9.6z"/><path d="M564.4 191.7l4.8 9.6h-9.6z"/><path d="M569.6 191.7l4.8 9.6h-9.6z"/><path d="M574.9 191.7l4.8 9.6h-9.6z"/><path d="M580.1 191.7l4.8 9.6h-9.6z"/><path d="M585.5 191.7l4.8 9.6h-9.6z"/><path d="M591.4 191.7l4.8 9.6h-9.6z"/><path d="M595.8 191.7l4.8 9.6h-9.6z"/><path d="M604.4 191.7l4.8 9.6h-9.6z"/><path d="M608.8 191.7l4.8 9.6h-9.6z"/><path d="M618.1 191.7l4.8 9.6h-9.6z"/><path d="M622.3 191.7l4.8 9.6h-9.6z"/><path d="M626.8 191.7l4.8 9.6h-9.6z"/><path d="M631.2 191.7l4.8 9.6h-9.6z"/><path d="M637.2 191.7l4.8 9.6h-9.6z"/><path d="M643.2 191.7l4.8 9.6h-9.6z"/><path d="M647.8 191.7l4.8 9.6h-9.6z"/><path d="M652.3 191.7l4.8 9.6h-9.6z"/><path d="M656.6 191.7l4.8 9.6h-9.6z"/><path d="M660.7 191.7l4.8 9.6h-9.6z"/><path d="M665.0 191.7l4.8 9.6h-9.6z"/><path d="M436.3 163.6l4.8 9.6h-9.6z"/><path d="M441.9 163.6l4.8 9.6h-9.6z"/><path d="M451.4 163.6l4.8 9.6h-9.6z"/><path d="M456.0 163.6l4.8 9.6h-9.6z"/><path d="M485.5 163.6l4.8 9.6h-9.6z"/><path d="M491.5 163.6l4.8 9.6h-9.6z"/><path d="M497.5 163.6l4.8 9.6h-9.6z"/><path d="M535.4 163.6l4.8 9.6h-9.6z"/><path d="M540.3 163.6l4.8 9.6h-9.6z"/><path d="M546.1 163.6l4.8 9.6h-9.6z"/><path d="M551.3 163.6l4.8 9.6h-9.6z"/><path d="M556.1 163.6l4.8 9.6h-9.6z"/><path d="M560.3 163.6l4.8 9.6h-9.6z"/><path d="M569.6 163.6l4.8 9.6h-9.6z"/><path d="M574.9 163.6l4.8 9.6h-9.6z"/><path d="M580.1 163.6l4.8 9.6h-9.6z"/><path d="M585.5 163.6l4.8 9.6h-9.6z"/><path d="M591.4 163.6l4.8 9.6h-9.6z"/><path d="M595.8 163.6l4.8 9.6h-9.6z"/><path d="M600.1 163.6l4.8 9.6h-9.6z"/><path d="M608.8 163.6l4.8 9.6h-9.6z"/><path d="M613.8 163.6l4.8 9.6h-9.6z"/><path d="M622.3 163.6l4.8 9.6h-9.6z"/><path d="M626.8 163.6l4.8 9.6h-9.6z"/><path d="M631.2 163.6l4.8 9.6h-9.6z"/><path d="M637.2 163.6l4.8 9.6h-9.6z"/><path d="M643.2 163.6l4.8 9.6h-9.6z"/><path d="M647.8 163.6l4.8 9.6h-9.6z"/><path d="M652.3 163.6l4.8 9.6h-9.6z"/><path d="M656.6 163.6l4.8 9.6h-9.6z"/><path d="M660.7 163.6l4.8 9.6h-9.6z"/><path d="M665.0 163.6l4.8 9.6h-9.6z"/><path d="M669.9 163.6l4.8 9.6h-9.6z"/><path d="M551.3 135.6l4.8 9.6h-9.6z"/><path d="M556.1 135.6l4.8 9.6h-9.6z"/><path d="M560.3 135.6l4.8 9.6h-9.6z"/><path d="M564.4 135.6l4.8 9.6h-9.6z"/><path d="M569.6 135.6l4.8 9.6h-9.6z"/><path d="M580.1 135.6l4.8 9.6h-9.6z"/><path d="M585.5 135.6l4.8 9.6h-9.6z"/><path d="M591.4 135.6l4.8 9.6h-9.6z"/><path d="M595.8 135.6l4.8 9.6h-9.6z"/><path d="M600.1 135.6l4.8 9.6h-9.6z"/><path d="M604.4 135.6l4.8 9.6h-9.6z"/><path d="M608.8 135.6l4.8 9.6h-9.6z"/><path d="M618.1 135.6l4.8 9.6h-9.6z"/><path d="M622.3 135.6l4.8 9.6h-9.6z"/><path d="M626.8 135.6l4.8 9.6h-9.6z"/><path d="M631.2 135.6l4.8 9.6h-9.6z"/><path d="M647.8 135.6l4.8 9.6h-9.6z"/><path d="M652.3 135.6l4.8 9.6h-9.6z"/><path d="M656.6 135.6l4.8 9.6h-9.6z"/><path d="M660.7 135.6l4.8 9.6h-9.6z"/><path d="M580.3 107.6l4.8 9.6h-9.6z"/><path d="M586.3 107.6l4.8 9.6h-9.6z"/><path d="M600.8 107.6l4.8 9.6h-9.6z"/><path d="M640.0 107.6l4.8 9.6h-9.6z"/><path d="M652.5 107.6l4.8 9.6h-9.6z"/></g>
<path d="M387.4 179.8L483.4 175.4L579.5 170.2L624.5 166.8L669.6 163.1L669.6 169.9L624.5 171.8L579.5 174.2L483.4 181.2L387.4 189.0Z" fill="#4878d0" fill-opacity="0.15"/>
<path d="M387.4 184.4L669.6 166.5" stroke="#4270cb" stroke-width="2.9" stroke-linecap="square" fill="none"/>
<path d="M387.4 186.9L483.4 180.7L579.5 173.4L624.5 169.4L669.6 165.0L669.6 171.8L624.5 174.4L579.5 177.4L483.4 185.0L387.4 193.8Z" fill="#ee854a" fill-opacity="0.15"/>
<path d="M387.4 190.3L669.6 168.4" stroke="#ea7f44" stroke-width="2.9" stroke-linecap="square" fill="none"/>
<rect x="372.6" y="14.6" width="311.2" height="223.6" fill="none" stroke="#e1e1e1" stroke-width="1.2"/>
<text transform="translate(435.14 251.80) scale(1.0,1.0)" font-size="10.3" text-anchor="middle" stroke="#262626" stroke-width="0.22">−2</text>
<text transform="translate(500.47 251.80) scale(1.0,1.0)" font-size="10.3" text-anchor="middle" stroke="#262626" stroke-width="0.22">−1</text>
<text transform="translate(565.80 251.80) scale(1.0,1.0)" font-size="10.3" text-anchor="middle" stroke="#262626" stroke-width="0.22">0</text>
<text transform="translate(631.13 251.80) scale(1.0,1.0)" font-size="10.3" text-anchor="middle" stroke="#262626" stroke-width="0.22">1</text>
<text transform="translate(365.30 228.25) scale(1.0,1.0)" font-size="10.3" text-anchor="end" stroke="#262626" stroke-width="0.22">0</text>
<text transform="translate(365.30 200.22) scale(1.0,1.0)" font-size="10.3" text-anchor="end" stroke="#262626" stroke-width="0.22">1</text>
<text transform="translate(365.30 172.19) scale(1.0,1.0)" font-size="10.3" text-anchor="end" stroke="#262626" stroke-width="0.22">2</text>
<text transform="translate(365.30 144.16) scale(1.0,1.0)" font-size="10.3" text-anchor="end" stroke="#262626" stroke-width="0.22">3</text>
<text transform="translate(365.30 116.13) scale(1.0,1.0)" font-size="10.3" text-anchor="end" stroke="#262626" stroke-width="0.22">4</text>
<text transform="translate(365.30 88.10) scale(1.0,1.0)" font-size="10.3" text-anchor="end" stroke="#262626" stroke-width="0.22">5</text>
<text transform="translate(365.30 60.07) scale(1.0,1.0)" font-size="10.3" text-anchor="end" stroke="#262626" stroke-width="0.22">6</text>
<text transform="translate(365.30 32.04) scale(1.0,1.0)" font-size="10.3" text-anchor="end" stroke="#262626" stroke-width="0.22">7</text>
<text transform="translate(528.20 264.80) scale(1.0,1.05)" font-size="9.7" text-anchor="middle" stroke="#262626" stroke-width="0.22">Event Centrality</text>
<text transform="translate(354.30 126.40) rotate(-90) scale(1.0,1.05)" font-size="9.7" text-anchor="middle" stroke="#262626" stroke-width="0.22">Central Details</text>
<text transform="translate(528.20 8.80) scale(1.0,1.0)" font-size="11.7" text-anchor="middle" stroke="#262626" stroke-width="0.22">Day 2_multiple</text>
<rect x="377.5" y="19.7" width="49.2" height="43.9" rx="1.4" fill="#fff" fill-opacity="0.8" stroke="#d9d9d9" stroke-width="0.9"/>
<text transform="translate(402.10 30.90) scale(1.0,1.05)" font-size="9.9" text-anchor="middle" stroke="#262626" stroke-width="0.22">Group</text>
<circle cx="391.2" cy="42.1" r="4.4" fill="#4878d0" fill-opacity="0.3"/>
<text transform="translate(408.50 43.80) scale(1.0,1.06)" font-size="9.5" text-anchor="start" stroke="#262626" stroke-width="0.22">YA</text>
<path d="M391.2 51.6L395.6 60.4H386.8Z" fill="#ee854a" fill-opacity="0.3"/>
<text transform="translate(408.50 57.70) scale(1.0,1.06)" font-size="9.5" text-anchor="start" stroke="#262626" stroke-width="0.22">OA</text>
</g>
<g>
<path d="M89.54 290.50V514.10M154.87 290.50V514.10M220.20 290.50V514.10M285.53 290.50V514.10M26.40 500.40H337.60M26.40 472.37H337.60M26.40 444.34H337.60M26.40 416.31H337.60M26.40 388.28H337.60M26.40 360.25H337.60M26.40 332.22H337.60M26.40 304.19H337.60" stroke="#d3d3d3" stroke-width="0.8" stroke-dasharray="2.95 1.12" fill="none"/>
<g fill="#4878d0" stroke="#fff" stroke-width="0.6" stroke-linejoin="miter"><circle cx="108.4" cy="500.4" r="4.8" opacity="0.32"/><circle cx="206.0" cy="500.4" r="4.8" opacity="0.54"/><circle cx="247.0" cy="500.4" r="4.8" opacity="0.54"/><circle cx="250.8" cy="500.4" r="4.8" opacity="0.54"/><circle cx="254.3" cy="500.4" r="4.8" opacity="0.32"/><circle cx="272.3" cy="500.4" r="4.8" opacity="0.44"/><circle cx="40.5" cy="472.4" r="4.8" opacity="0.69"/><circle cx="46.5" cy="472.4" r="4.8" opacity="0.69"/><circle cx="60.6" cy="472.4" r="4.8" opacity="0.54"/><circle cx="68.2" cy="472.4" r="4.8" opacity="0.69"/><circle cx="84.3" cy="472.4" r="4.8" opacity="0.32"/><circle cx="90.3" cy="472.4" r="4.8" opacity="0.69"/><circle cx="95.9" cy="472.4" r="4.8" opacity="0.69"/><circle cx="105.4" cy="472.4" r="4.8" opacity="0.69"/><circle cx="110.0" cy="472.4" r="4.8" opacity="0.69"/><circle cx="124.0" cy="472.4" r="4.8" opacity="0.54"/><circle cx="129.5" cy="472.4" r="4.8" opacity="0.69"/><circle cx="134.5" cy="472.4" r="4.8" opacity="0.69"/><circle cx="139.7" cy="472.4" r="4.8" opacity="0.69"/><circle cx="145.2" cy="472.4" r="4.8" opacity="0.69"/><circle cx="151.5" cy="472.4" r="4.8" opacity="0.69"/><circle cx="157.3" cy="472.4" r="4.8" opacity="0.69"/><circle cx="162.5" cy="472.4" r="4.8" opacity="0.69"/><circle cx="171.6" cy="472.4" r="4.8" opacity="0.32"/><circle cx="176.0" cy="472.4" r="4.8" opacity="0.32"/><circle cx="189.6" cy="472.4" r="4.8" opacity="0.54"/><circle cx="194.5" cy="472.4" r="4.8" opacity="0.69"/><circle cx="200.3" cy="472.4" r="4.8" opacity="0.85"/><circle cx="205.5" cy="472.4" r="4.8" opacity="0.69"/><circle cx="210.3" cy="472.4" r="4.8" opacity="0.54"/><circle cx="214.5" cy="472.4" r="4.8" opacity="0.54"/><circle cx="218.6" cy="472.4" r="4.8" opacity="0.62"/><circle cx="223.8" cy="472.4" r="4.8" opacity="0.44"/><circle cx="229.1" cy="472.4" r="4.8" opacity="0.54"/><circle cx="234.3" cy="472.4" r="4.8" opacity="0.44"/><circle cx="239.7" cy="472.4" r="4.8" opacity="0.69"/><circle cx="245.6" cy="472.4" r="4.8" opacity="0.79"/><circle cx="250.0" cy="472.4" r="4.8" opacity="0.44"/><circle cx="254.3" cy="472.4" r="4.8" opacity="0.62"/><circle cx="258.6" cy="472.4" r="4.8" opacity="0.44"/><circle cx="263.0" cy="472.4" r="4.8" opacity="0.54"/><circle cx="268.0" cy="472.4" r="4.8" opacity="0.79"/><circle cx="272.3" cy="472.4" r="4.8" opacity="0.85"/><circle cx="276.5" cy="472.4" r="4.8" opacity="0.54"/><circle cx="281.0" cy="472.4" r="4.8" opacity="0.85"/><circle cx="285.4" cy="472.4" r="4.8" opacity="0.54"/><circle cx="291.4" cy="472.4" r="4.8" opacity="0.44"/><circle cx="297.4" cy="472.4" r="4.8" opacity="0.54"/><circle cx="302.0" cy="472.4" r="4.8" opacity="0.69"/><circle cx="306.5" cy="472.4" r="4.8" opacity="0.62"/><circle cx="310.8" cy="472.4" r="4.8" opacity="0.54"/><circle cx="314.9" cy="472.4" r="4.8" opacity="0.62"/><circle cx="319.2" cy="472.4" r="4.8" opacity="0.62"/><circle cx="323.5" cy="472.4" r="4.8" opacity="0.32"/><circle cx="40.5" cy="444.3" r="4.8" opacity="0.54"/><circle cx="47.1" cy="444.3" r="4.8" opacity="0.32"/><circle cx="60.6" cy="444.3" r="4.8" opacity="0.32"/><circle cx="68.2" cy="444.3" r="4.8" opacity="0.54"/><circle cx="90.3" cy="444.3" r="4.8" opacity="0.69"/><circle cx="95.9" cy="444.3" r="4.8" opacity="0.69"/><circle cx="105.4" cy="444.3" r="4.8" opacity="0.69"/><circle cx="110.0" cy="444.3" r="4.8" opacity="0.69"/><circle cx="132.8" cy="444.3" r="4.8" opacity="0.32"/><circle cx="138.5" cy="444.3" r="4.8" opacity="0.54"/><circle cx="145.0" cy="444.3" r="4.8" opacity="0.69"/><circle cx="151.5" cy="444.3" r="4.8" opacity="0.69"/><circle cx="157.5" cy="444.3" r="4.8" opacity="0.69"/><circle cx="162.1" cy="444.3" r="4.8" opacity="0.32"/><circle cx="171.8" cy="444.3" r="4.8" opacity="0.54"/><circle cx="176.2" cy="444.3" r="4.8" opacity="0.32"/><circle cx="189.6" cy="444.3" r="4.8" opacity="0.79"/><circle cx="194.5" cy="444.3" r="4.8" opacity="0.62"/><circle cx="200.3" cy="444.3" r="4.8" opacity="0.85"/><circle cx="205.5" cy="444.3" r="4.8" opacity="0.44"/><circle cx="210.3" cy="444.3" r="4.8" opacity="0.85"/><circle cx="214.5" cy="444.3" r="4.8" opacity="0.54"/><circle cx="218.6" cy="444.3" r="4.8" opacity="0.85"/><circle cx="223.8" cy="444.3" r="4.8" opacity="0.44"/><circle cx="229.1" cy="444.3" r="4.8" opacity="0.62"/><circle cx="234.3" cy="444.3" r="4.8" opacity="0.44"/><circle cx="239.7" cy="444.3" r="4.8" opacity="0.62"/><circle cx="245.6" cy="444.3" r="4.8" opacity="0.54"/><circle cx="250.0" cy="444.3" r="4.8" opacity="0.54"/><circle cx="254.3" cy="444.3" r="4.8" opacity="0.44"/><circle cx="258.6" cy="444.3" r="4.8" opacity="0.54"/><circle cx="263.0" cy="444.3" r="4.8" opacity="0.44"/><circle cx="268.0" cy="444.3" r="4.8" opacity="0.69"/><circle cx="272.3" cy="444.3" r="4.8" opacity="0.44"/><circle cx="276.5" cy="444.3" r="4.8" opacity="0.44"/><circle cx="281.0" cy="444.3" r="4.8" opacity="0.54"/><circle cx="285.4" cy="444.3" r="4.8" opacity="0.54"/><circle cx="291.4" cy="444.3" r="4.8" opacity="0.44"/><circle cx="297.4" cy="444.3" r="4.8" opacity="0.85"/><circle cx="302.0" cy="444.3" r="4.8" opacity="0.62"/><circle cx="306.5" cy="444.3" r="4.8" opacity="0.54"/><circle cx="310.8" cy="444.3" r="4.8" opacity="0.62"/><circle cx="314.9" cy="444.3" r="4.8" opacity="0.79"/><circle cx="319.2" cy="444.3" r="4.8" opacity="0.85"/><circle cx="323.5" cy="444.3" r="4.8" opacity="0.85"/><circle cx="68.2" cy="416.3" r="4.8" opacity="0.32"/><circle cx="90.0" cy="416.3" r="4.8" opacity="0.54"/><circle cx="95.5" cy="416.3" r="4.8" opacity="0.32"/><circle cx="108.0" cy="416.3" r="4.8" opacity="0.54"/><circle cx="124.0" cy="416.3" r="4.8" opacity="0.32"/><circle cx="135.5" cy="416.3" r="4.8" opacity="0.54"/><circle cx="144.8" cy="416.3" r="4.8" opacity="0.54"/><circle cx="152.5" cy="416.3" r="4.8" opacity="0.32"/><circle cx="159.5" cy="416.3" r="4.8" opacity="0.32"/><circle cx="172.6" cy="416.3" r="4.8" opacity="0.32"/><circle cx="189.4" cy="416.3" r="4.8" opacity="0.54"/><circle cx="194.5" cy="416.3" r="4.8" opacity="0.44"/><circle cx="200.3" cy="416.3" r="4.8" opacity="0.79"/><circle cx="205.5" cy="416.3" r="4.8" opacity="0.62"/><circle cx="210.3" cy="416.3" r="4.8" opacity="0.85"/><circle cx="214.5" cy="416.3" r="4.8" opacity="0.54"/><circle cx="218.6" cy="416.3" r="4.8" opacity="0.79"/><circle cx="223.8" cy="416.3" r="4.8" opacity="0.85"/><circle cx="229.1" cy="416.3" r="4.8" opacity="0.79"/><circle cx="234.3" cy="416.3" r="4.8" opacity="0.69"/><circle cx="239.7" cy="416.3" r="4.8" opacity="0.62"/><circle cx="245.6" cy="416.3" r="4.8" opacity="0.79"/><circle cx="250.0" cy="416.3" r="4.8" opacity="0.44"/><circle cx="254.3" cy="416.3" r="4.8" opacity="0.54"/><circle cx="258.6" cy="416.3" r="4.8" opacity="0.85"/><circle cx="263.0" cy="416.3" r="4.8" opacity="0.44"/><circle cx="268.0" cy="416.3" r="4.8" opacity="0.85"/><circle cx="272.3" cy="416.3" r="4.8" opacity="0.62"/><circle cx="276.5" cy="416.3" r="4.8" opacity="0.85"/><circle cx="281.0" cy="416.3" r="4.8" opacity="0.62"/><circle cx="285.4" cy="416.3" r="4.8" opacity="0.54"/><circle cx="291.4" cy="416.3" r="4.8" opacity="0.44"/><circle cx="297.4" cy="416.3" r="4.8" opacity="0.79"/><circle cx="302.0" cy="416.3" r="4.8" opacity="0.44"/><circle cx="306.5" cy="416.3" r="4.8" opacity="0.44"/><circle cx="310.8" cy="416.3" r="4.8" opacity="0.79"/><circle cx="314.9" cy="416.3" r="4.8" opacity="0.69"/><circle cx="319.2" cy="416.3" r="4.8" opacity="0.69"/><circle cx="323.5" cy="416.3" r="4.8" opacity="0.54"/><circle cx="40.5" cy="388.3" r="4.8" opacity="0.54"/><circle cx="90.3" cy="388.3" r="4.8" opacity="0.32"/><circle cx="108.4" cy="388.3" r="4.8" opacity="0.32"/><circle cx="159.5" cy="388.3" r="4.8" opacity="0.32"/><circle cx="172.2" cy="388.3" r="4.8" opacity="0.32"/><circle cx="190.3" cy="388.3" r="4.8" opacity="0.54"/><circle cx="195.3" cy="388.3" r="4.8" opacity="0.32"/><circle cx="200.3" cy="388.3" r="4.8" opacity="0.69"/><circle cx="205.5" cy="388.3" r="4.8" opacity="0.69"/><circle cx="210.4" cy="388.3" r="4.8" opacity="0.54"/><circle cx="214.5" cy="388.3" r="4.8" opacity="0.54"/><circle cx="218.5" cy="388.3" r="4.8" opacity="0.54"/><circle cx="222.5" cy="388.3" r="4.8" opacity="0.54"/><circle cx="227.0" cy="388.3" r="4.8" opacity="0.32"/><circle cx="232.0" cy="388.3" r="4.8" opacity="0.54"/><circle cx="236.5" cy="388.3" r="4.8" opacity="0.69"/><circle cx="240.5" cy="388.3" r="4.8" opacity="0.69"/><circle cx="245.5" cy="388.3" r="4.8" opacity="0.54"/><circle cx="250.0" cy="388.3" r="4.8" opacity="0.69"/><circle cx="254.5" cy="388.3" r="4.8" opacity="0.69"/><circle cx="259.0" cy="388.3" r="4.8" opacity="0.54"/><circle cx="263.0" cy="388.3" r="4.8" opacity="0.54"/><circle cx="267.5" cy="388.3" r="4.8" opacity="0.32"/><circle cx="272.0" cy="388.3" r="4.8" opacity="0.54"/><circle cx="277.0" cy="388.3" r="4.8" opacity="0.32"/><circle cx="282.0" cy="388.3" r="4.8" opacity="0.54"/><circle cx="286.5" cy="388.3" r="4.8" opacity="0.69"/><circle cx="291.0" cy="388.3" r="4.8" opacity="0.54"/><circle cx="295.0" cy="388.3" r="4.8" opacity="0.32"/><circle cx="300.0" cy="388.3" r="4.8" opacity="0.32"/><circle cx="306.5" cy="388.3" r="4.8" opacity="0.32"/><circle cx="314.9" cy="388.3" r="4.8" opacity="0.54"/><circle cx="190.9" cy="360.2" r="4.8" opacity="0.54"/><circle cx="200.7" cy="360.2" r="4.8" opacity="0.32"/><circle cx="209.4" cy="360.2" r="4.8" opacity="0.32"/><circle cx="213.3" cy="360.2" r="4.8" opacity="0.32"/><circle cx="221.2" cy="360.2" r="4.8" opacity="0.32"/><circle cx="227.3" cy="360.2" r="4.8" opacity="0.54"/><circle cx="233.3" cy="360.2" r="4.8" opacity="0.32"/><circle cx="245.5" cy="360.2" r="4.8" opacity="0.32"/><circle cx="275.9" cy="360.2" r="4.8" opacity="0.32"/><circle cx="279.3" cy="360.2" r="4.8" opacity="0.54"/><circle cx="288.4" cy="360.2" r="4.8" opacity="0.32"/><circle cx="292.8" cy="360.2" r="4.8" opacity="0.54"/><circle cx="297.4" cy="360.2" r="4.8" opacity="0.32"/><circle cx="305.8" cy="360.2" r="4.8" opacity="0.32"/><circle cx="314.9" cy="360.2" r="4.8" opacity="0.32"/><circle cx="239.6" cy="332.2" r="4.8" opacity="0.54"/><circle cx="270.3" cy="332.2" r="4.8" opacity="0.54"/><circle cx="275.9" cy="332.2" r="4.8" opacity="0.32"/><circle cx="302.0" cy="332.2" r="4.8" opacity="0.32"/><circle cx="307.8" cy="332.2" r="4.8" opacity="0.54"/><circle cx="322.9" cy="332.2" r="4.8" opacity="0.32"/><circle cx="201.9" cy="304.2" r="4.8" opacity="0.32"/><circle cx="240.2" cy="304.2" r="4.8" opacity="0.32"/><circle cx="291.4" cy="304.2" r="4.8" opacity="0.32"/></g>
<g fill="#ee854a" stroke="#fff" stroke-width="0.6" stroke-linejoin="miter"><path d="M46.5 495.6l4.8 9.6h-9.6z" opacity="0.32"/><path d="M95.9 495.6l4.8 9.6h-9.6z" opacity="0.32"/><path d="M151.4 495.6l4.8 9.6h-9.6z" opacity="0.32"/><path d="M188.3 495.6l4.8 9.6h-9.6z" opacity="0.32"/><path d="M206.0 495.6l4.8 9.6h-9.6z" opacity="0.32"/><path d="M210.4 495.6l4.8 9.6h-9.6z" opacity="0.32"/><path d="M220.5 495.6l4.8 9.6h-9.6z" opacity="0.32"/><path d="M227.0 495.6l4.8 9.6h-9.6z" opacity="0.32"/><path d="M241.4 495.6l4.8 9.6h-9.6z" opacity="0.32"/><path d="M247.0 495.6l4.8 9.6h-9.6z" opacity="0.32"/><path d="M254.3 495.6l4.8 9.6h-9.6z" opacity="0.32"/><path d="M282.3 495.6l4.8 9.6h-9.6z" opacity="0.32"/><path d="M305.4 495.6l4.8 9.6h-9.6z" opacity="0.32"/><path d="M40.5 467.6l4.8 9.6h-9.6z" opacity="0.69"/><path d="M46.5 467.6l4.8 9.6h-9.6z" opacity="0.69"/><path d="M60.6 467.6l4.8 9.6h-9.6z" opacity="0.32"/><path d="M68.2 467.6l4.8 9.6h-9.6z" opacity="0.69"/><path d="M84.3 467.6l4.8 9.6h-9.6z" opacity="0.54"/><path d="M90.3 467.6l4.8 9.6h-9.6z" opacity="0.69"/><path d="M95.9 467.6l4.8 9.6h-9.6z" opacity="0.69"/><path d="M105.4 467.6l4.8 9.6h-9.6z" opacity="0.69"/><path d="M110.0 467.6l4.8 9.6h-9.6z" opacity="0.69"/><path d="M124.0 467.6l4.8 9.6h-9.6z" opacity="0.54"/><path d="M129.5 467.6l4.8 9.6h-9.6z" opacity="0.69"/><path d="M134.5 467.6l4.8 9.6h-9.6z" opacity="0.69"/><path d="M139.7 467.6l4.8 9.6h-9.6z" opacity="0.69"/><path d="M145.2 467.6l4.8 9.6h-9.6z" opacity="0.69"/><path d="M151.5 467.6l4.8 9.6h-9.6z" opacity="0.69"/><path d="M157.3 467.6l4.8 9.6h-9.6z" opacity="0.69"/><path d="M162.5 467.6l4.8 9.6h-9.6z" opacity="0.69"/><path d="M171.6 467.6l4.8 9.6h-9.6z" opacity="0.44"/><path d="M176.0 467.6l4.8 9.6h-9.6z" opacity="0.44"/><path d="M189.6 467.6l4.8 9.6h-9.6z" opacity="0.66"/><path d="M194.5 467.6l4.8 9.6h-9.6z" opacity="0.66"/><path d="M200.3 467.6l4.8 9.6h-9.6z" opacity="0.79"/><path d="M205.5 467.6l4.8 9.6h-9.6z" opacity="0.84"/><path d="M210.3 467.6l4.8 9.6h-9.6z" opacity="0.79"/><path d="M214.5 467.6l4.8 9.6h-9.6z" opacity="0.54"/><path d="M218.6 467.6l4.8 9.6h-9.6z" opacity="0.66"/><path d="M223.8 467.6l4.8 9.6h-9.6z" opacity="0.54"/><path d="M229.1 467.6l4.8 9.6h-9.6z" opacity="0.79"/><path d="M234.3 467.6l4.8 9.6h-9.6z" opacity="0.79"/><path d="M239.7 467.6l4.8 9.6h-9.6z" opacity="0.54"/><path d="M245.6 467.6l4.8 9.6h-9.6z" opacity="0.79"/><path d="M250.0 467.6l4.8 9.6h-9.6z" opacity="0.79"/><path d="M254.3 467.6l4.8 9.6h-9.6z" opacity="0.73"/><path d="M258.6 467.6l4.8 9.6h-9.6z" opacity="0.79"/><path d="M263.0 467.6l4.8 9.6h-9.6z" opacity="0.84"/><path d="M268.0 467.6l4.8 9.6h-9.6z" opacity="0.66"/><path d="M272.3 467.6l4.8 9.6h-9.6z" opacity="0.54"/><path d="M276.5 467.6l4.8 9.6h-9.6z" opacity="0.79"/><path d="M281.0 467.6l4.8 9.6h-9.6z" opacity="0.73"/><path d="M285.4 467.6l4.8 9.6h-9.6z" opacity="0.73"/><path d="M291.4 467.6l4.8 9.6h-9.6z" opacity="0.84"/><path d="M297.4 467.6l4.8 9.6h-9.6z" opacity="0.73"/><path d="M302.0 467.6l4.8 9.6h-9.6z" opacity="0.66"/><path d="M306.5 467.6l4.8 9.6h-9.6z" opacity="0.66"/><path d="M310.8 467.6l4.8 9.6h-9.6z" opacity="0.73"/><path d="M314.9 467.6l4.8 9.6h-9.6z" opacity="0.66"/><path d="M319.2 467.6l4.8 9.6h-9.6z" opacity="0.66"/><path d="M323.5 467.6l4.8 9.6h-9.6z" opacity="0.32"/><path d="M40.5 439.5l4.8 9.6h-9.6z" opacity="0.69"/><path d="M47.1 439.5l4.8 9.6h-9.6z" opacity="0.69"/><path d="M68.2 439.5l4.8 9.6h-9.6z" opacity="0.32"/><path d="M90.3 439.5l4.8 9.6h-9.6z" opacity="0.69"/><path d="M95.9 439.5l4.8 9.6h-9.6z" opacity="0.69"/><path d="M105.4 439.5l4.8 9.6h-9.6z" opacity="0.69"/><path d="M110.0 439.5l4.8 9.6h-9.6z" opacity="0.69"/><path d="M132.8 439.5l4.8 9.6h-9.6z" opacity="0.32"/><path d="M145.0 439.5l4.8 9.6h-9.6z" opacity="0.69"/><path d="M151.5 439.5l4.8 9.6h-9.6z" opacity="0.69"/><path d="M157.5 439.5l4.8 9.6h-9.6z" opacity="0.69"/><path d="M162.1 439.5l4.8 9.6h-9.6z" opacity="0.44"/><path d="M171.8 439.5l4.8 9.6h-9.6z" opacity="0.32"/><path d="M189.6 439.5l4.8 9.6h-9.6z" opacity="0.73"/><path d="M194.5 439.5l4.8 9.6h-9.6z" opacity="0.66"/><path d="M200.3 439.5l4.8 9.6h-9.6z" opacity="0.84"/><path d="M205.5 439.5l4.8 9.6h-9.6z" opacity="0.66"/><path d="M210.3 439.5l4.8 9.6h-9.6z" opacity="0.79"/><path d="M214.5 439.5l4.8 9.6h-9.6z" opacity="0.84"/><path d="M218.6 439.5l4.8 9.6h-9.6z" opacity="0.79"/><path d="M223.8 439.5l4.8 9.6h-9.6z" opacity="0.79"/><path d="M229.1 439.5l4.8 9.6h-9.6z" opacity="0.79"/><path d="M234.3 439.5l4.8 9.6h-9.6z" opacity="0.79"/><path d="M239.7 439.5l4.8 9.6h-9.6z" opacity="0.66"/><path d="M245.6 439.5l4.8 9.6h-9.6z" opacity="0.73"/><path d="M250.0 439.5l4.8 9.6h-9.6z" opacity="0.79"/><path d="M254.3 439.5l4.8 9.6h-9.6z" opacity="0.54"/><path d="M258.6 439.5l4.8 9.6h-9.6z" opacity="0.79"/><path d="M263.0 439.5l4.8 9.6h-9.6z" opacity="0.54"/><path d="M268.0 439.5l4.8 9.6h-9.6z" opacity="0.66"/><path d="M272.3 439.5l4.8 9.6h-9.6z" opacity="0.84"/><path d="M276.5 439.5l4.8 9.6h-9.6z" opacity="0.54"/><path d="M281.0 439.5l4.8 9.6h-9.6z" opacity="0.66"/><path d="M285.4 439.5l4.8 9.6h-9.6z" opacity="0.54"/><path d="M291.4 439.5l4.8 9.6h-9.6z" opacity="0.73"/><path d="M297.4 439.5l4.8 9.6h-9.6z" opacity="0.73"/><path d="M302.0 439.5l4.8 9.6h-9.6z" opacity="0.66"/><path d="M306.5 439.5l4.8 9.6h-9.6z" opacity="0.73"/><path d="M310.8 439.5l4.8 9.6h-9.6z" opacity="0.73"/><path d="M314.9 439.5l4.8 9.6h-9.6z" opacity="0.66"/><path d="M319.2 439.5l4.8 9.6h-9.6z" opacity="0.73"/><path d="M323.5 439.5l4.8 9.6h-9.6z" opacity="0.84"/><path d="M90.0 411.5l4.8 9.6h-9.6z" opacity="0.44"/><path d="M95.5 411.5l4.8 9.6h-9.6z" opacity="0.54"/><path d="M108.0 411.5l4.8 9.6h-9.6z" opacity="0.32"/><path d="M144.8 411.5l4.8 9.6h-9.6z" opacity="0.54"/><path d="M152.5 411.5l4.8 9.6h-9.6z" opacity="0.32"/><path d="M194.5 411.5l4.8 9.6h-9.6z" opacity="0.80"/><path d="M200.3 411.5l4.8 9.6h-9.6z" opacity="0.49"/><path d="M205.5 411.5l4.8 9.6h-9.6z" opacity="0.74"/><path d="M210.3 411.5l4.8 9.6h-9.6z" opacity="0.80"/><path d="M214.5 411.5l4.8 9.6h-9.6z" opacity="0.49"/><path d="M218.6 411.5l4.8 9.6h-9.6z" opacity="0.60"/><path d="M223.8 411.5l4.8 9.6h-9.6z" opacity="0.49"/><path d="M229.1 411.5l4.8 9.6h-9.6z" opacity="0.60"/><path d="M234.3 411.5l4.8 9.6h-9.6z" opacity="0.74"/><path d="M239.7 411.5l4.8 9.6h-9.6z" opacity="0.74"/><path d="M245.6 411.5l4.8 9.6h-9.6z" opacity="0.60"/><path d="M250.0 411.5l4.8 9.6h-9.6z" opacity="0.69"/><path d="M254.3 411.5l4.8 9.6h-9.6z" opacity="0.49"/><path d="M258.6 411.5l4.8 9.6h-9.6z" opacity="0.60"/><path d="M263.0 411.5l4.8 9.6h-9.6z" opacity="0.74"/><path d="M268.0 411.5l4.8 9.6h-9.6z" opacity="0.60"/><path d="M272.3 411.5l4.8 9.6h-9.6z" opacity="0.74"/><path d="M276.5 411.5l4.8 9.6h-9.6z" opacity="0.69"/><path d="M281.0 411.5l4.8 9.6h-9.6z" opacity="0.61"/><path d="M285.4 411.5l4.8 9.6h-9.6z" opacity="0.74"/><path d="M291.4 411.5l4.8 9.6h-9.6z" opacity="0.61"/><path d="M297.4 411.5l4.8 9.6h-9.6z" opacity="0.61"/><path d="M302.0 411.5l4.8 9.6h-9.6z" opacity="0.49"/><path d="M306.5 411.5l4.8 9.6h-9.6z" opacity="0.60"/><path d="M310.8 411.5l4.8 9.6h-9.6z" opacity="0.80"/><path d="M314.9 411.5l4.8 9.6h-9.6z" opacity="0.60"/><path d="M319.2 411.5l4.8 9.6h-9.6z" opacity="0.69"/><path d="M172.2 383.5l4.8 9.6h-9.6z" opacity="0.32"/><path d="M190.3 383.5l4.8 9.6h-9.6z" opacity="0.32"/><path d="M200.3 383.5l4.8 9.6h-9.6z" opacity="0.32"/><path d="M205.5 383.5l4.8 9.6h-9.6z" opacity="0.32"/><path d="M210.4 383.5l4.8 9.6h-9.6z" opacity="0.32"/><path d="M214.5 383.5l4.8 9.6h-9.6z" opacity="0.54"/><path d="M218.5 383.5l4.8 9.6h-9.6z" opacity="0.32"/><path d="M222.5 383.5l4.8 9.6h-9.6z" opacity="0.54"/><path d="M227.0 383.5l4.8 9.6h-9.6z" opacity="0.44"/><path d="M232.0 383.5l4.8 9.6h-9.6z" opacity="0.54"/><path d="M236.5 383.5l4.8 9.6h-9.6z" opacity="0.54"/><path d="M240.5 383.5l4.8 9.6h-9.6z" opacity="0.44"/><path d="M245.5 383.5l4.8 9.6h-9.6z" opacity="0.54"/><path d="M250.0 383.5l4.8 9.6h-9.6z" opacity="0.54"/><path d="M254.5 383.5l4.8 9.6h-9.6z" opacity="0.54"/><path d="M259.0 383.5l4.8 9.6h-9.6z" opacity="0.32"/><path d="M263.0 383.5l4.8 9.6h-9.6z" opacity="0.54"/><path d="M267.5 383.5l4.8 9.6h-9.6z" opacity="0.54"/><path d="M272.0 383.5l4.8 9.6h-9.6z" opacity="0.54"/><path d="M277.0 383.5l4.8 9.6h-9.6z" opacity="0.54"/><path d="M282.0 383.5l4.8 9.6h-9.6z" opacity="0.54"/><path d="M286.5 383.5l4.8 9.6h-9.6z" opacity="0.32"/><path d="M291.0 383.5l4.8 9.6h-9.6z" opacity="0.54"/><path d="M295.0 383.5l4.8 9.6h-9.6z" opacity="0.54"/><path d="M300.0 383.5l4.8 9.6h-9.6z" opacity="0.54"/><path d="M306.5 383.5l4.8 9.6h-9.6z" opacity="0.44"/><path d="M314.9 383.5l4.8 9.6h-9.6z" opacity="0.54"/><path d="M323.5 383.5l4.8 9.6h-9.6z" opacity="0.32"/><path d="M213.3 355.4l4.8 9.6h-9.6z" opacity="0.54"/><path d="M221.2 355.4l4.8 9.6h-9.6z" opacity="0.32"/><path d="M240.5 355.4l4.8 9.6h-9.6z" opacity="0.32"/><path d="M254.2 355.4l4.8 9.6h-9.6z" opacity="0.54"/><path d="M270.3 355.4l4.8 9.6h-9.6z" opacity="0.32"/><path d="M314.9 355.4l4.8 9.6h-9.6z" opacity="0.32"/><path d="M239.6 327.4l4.8 9.6h-9.6z" opacity="0.32"/><path d="M306.5 383.5l4.8 9.6h-9.6z" opacity="0.44"/><path d="M240.5 383.5l4.8 9.6h-9.6z" opacity="0.44"/><path d="M227.0 383.5l4.8 9.6h-9.6z" opacity="0.44"/><path d="M319.2 411.5l4.8 9.6h-9.6z" opacity="0.69"/><path d="M310.8 411.5l4.8 9.6h-9.6z" opacity="0.80"/><path d="M302.0 411.5l4.8 9.6h-9.6z" opacity="0.49"/><path d="M297.4 411.5l4.8 9.6h-9.6z" opacity="0.61"/><path d="M291.4 411.5l4.8 9.6h-9.6z" opacity="0.61"/><path d="M285.4 411.5l4.8 9.6h-9.6z" opacity="0.74"/><path d="M281.0 411.5l4.8 9.6h-9.6z" opacity="0.61"/><path d="M276.5 411.5l4.8 9.6h-9.6z" opacity="0.69"/><path d="M272.3 411.5l4.8 9.6h-9.6z" opacity="0.74"/><path d="M263.0 411.5l4.8 9.6h-9.6z" opacity="0.74"/><path d="M254.3 411.5l4.8 9.6h-9.6z" opacity="0.49"/><path d="M250.0 411.5l4.8 9.6h-9.6z" opacity="0.69"/><path d="M239.7 411.5l4.8 9.6h-9.6z" opacity="0.74"/><path d="M234.3 411.5l4.8 9.6h-9.6z" opacity="0.74"/><path d="M223.8 411.5l4.8 9.6h-9.6z" opacity="0.49"/><path d="M214.5 411.5l4.8 9.6h-9.6z" opacity="0.49"/><path d="M210.3 411.5l4.8 9.6h-9.6z" opacity="0.80"/><path d="M205.5 411.5l4.8 9.6h-9.6z" opacity="0.74"/><path d="M200.3 411.5l4.8 9.6h-9.6z" opacity="0.49"/><path d="M194.5 411.5l4.8 9.6h-9.6z" opacity="0.80"/><path d="M90.0 411.5l4.8 9.6h-9.6z" opacity="0.44"/><path d="M323.5 439.5l4.8 9.6h-9.6z" opacity="0.84"/><path d="M319.2 439.5l4.8 9.6h-9.6z" opacity="0.73"/><path d="M314.9 439.5l4.8 9.6h-9.6z" opacity="0.66"/><path d="M310.8 439.5l4.8 9.6h-9.6z" opacity="0.73"/><path d="M306.5 439.5l4.8 9.6h-9.6z" opacity="0.73"/><path d="M302.0 439.5l4.8 9.6h-9.6z" opacity="0.66"/><path d="M297.4 439.5l4.8 9.6h-9.6z" opacity="0.73"/><path d="M291.4 439.5l4.8 9.6h-9.6z" opacity="0.73"/><path d="M285.4 439.5l4.8 9.6h-9.6z" opacity="0.54"/><path d="M281.0 439.5l4.8 9.6h-9.6z" opacity="0.66"/><path d="M276.5 439.5l4.8 9.6h-9.6z" opacity="0.54"/><path d="M272.3 439.5l4.8 9.6h-9.6z" opacity="0.84"/><path d="M268.0 439.5l4.8 9.6h-9.6z" opacity="0.66"/><path d="M263.0 439.5l4.8 9.6h-9.6z" opacity="0.54"/><path d="M258.6 439.5l4.8 9.6h-9.6z" opacity="0.79"/><path d="M254.3 439.5l4.8 9.6h-9.6z" opacity="0.54"/><path d="M250.0 439.5l4.8 9.6h-9.6z" opacity="0.79"/><path d="M245.6 439.5l4.8 9.6h-9.6z" opacity="0.73"/><path d="M239.7 439.5l4.8 9.6h-9.6z" opacity="0.66"/><path d="M234.3 439.5l4.8 9.6h-9.6z" opacity="0.79"/><path d="M229.1 439.5l4.8 9.6h-9.6z" opacity="0.79"/><path d="M223.8 439.5l4.8 9.6h-9.6z" opacity="0.79"/><path d="M218.6 439.5l4.8 9.6h-9.6z" opacity="0.79"/><path d="M214.5 439.5l4.8 9.6h-9.6z" opacity="0.84"/><path d="M210.3 439.5l4.8 9.6h-9.6z" opacity="0.79"/><path d="M200.3 439.5l4.8 9.6h-9.6z" opacity="0.84"/><path d="M189.6 439.5l4.8 9.6h-9.6z" opacity="0.73"/><path d="M162.1 439.5l4.8 9.6h-9.6z" opacity="0.44"/><path d="M157.5 439.5l4.8 9.6h-9.6z" opacity="0.69"/><path d="M151.5 439.5l4.8 9.6h-9.6z" opacity="0.69"/><path d="M145.0 439.5l4.8 9.6h-9.6z" opacity="0.69"/><path d="M110.0 439.5l4.8 9.6h-9.6z" opacity="0.69"/><path d="M105.4 439.5l4.8 9.6h-9.6z" opacity="0.69"/><path d="M95.9 439.5l4.8 9.6h-9.6z" opacity="0.69"/><path d="M90.3 439.5l4.8 9.6h-9.6z" opacity="0.69"/><path d="M47.1 439.5l4.8 9.6h-9.6z" opacity="0.69"/><path d="M40.5 439.5l4.8 9.6h-9.6z" opacity="0.69"/><path d="M314.9 467.6l4.8 9.6h-9.6z" opacity="0.66"/><path d="M310.8 467.6l4.8 9.6h-9.6z" opacity="0.73"/><path d="M306.5 467.6l4.8 9.6h-9.6z" opacity="0.66"/><path d="M302.0 467.6l4.8 9.6h-9.6z" opacity="0.66"/><path d="M297.4 467.6l4.8 9.6h-9.6z" opacity="0.73"/><path d="M291.4 467.6l4.8 9.6h-9.6z" opacity="0.84"/><path d="M285.4 467.6l4.8 9.6h-9.6z" opacity="0.73"/><path d="M281.0 467.6l4.8 9.6h-9.6z" opacity="0.73"/><path d="M276.5 467.6l4.8 9.6h-9.6z" opacity="0.79"/><path d="M272.3 467.6l4.8 9.6h-9.6z" opacity="0.54"/><path d="M268.0 467.6l4.8 9.6h-9.6z" opacity="0.66"/><path d="M263.0 467.6l4.8 9.6h-9.6z" opacity="0.84"/><path d="M258.6 467.6l4.8 9.6h-9.6z" opacity="0.79"/><path d="M254.3 467.6l4.8 9.6h-9.6z" opacity="0.73"/><path d="M250.0 467.6l4.8 9.6h-9.6z" opacity="0.79"/><path d="M245.6 467.6l4.8 9.6h-9.6z" opacity="0.79"/><path d="M239.7 467.6l4.8 9.6h-9.6z" opacity="0.54"/><path d="M234.3 467.6l4.8 9.6h-9.6z" opacity="0.79"/><path d="M229.1 467.6l4.8 9.6h-9.6z" opacity="0.79"/><path d="M223.8 467.6l4.8 9.6h-9.6z" opacity="0.54"/><path d="M214.5 467.6l4.8 9.6h-9.6z" opacity="0.54"/><path d="M210.3 467.6l4.8 9.6h-9.6z" opacity="0.79"/><path d="M205.5 467.6l4.8 9.6h-9.6z" opacity="0.84"/><path d="M200.3 467.6l4.8 9.6h-9.6z" opacity="0.79"/><path d="M176.0 467.6l4.8 9.6h-9.6z" opacity="0.44"/><path d="M171.6 467.6l4.8 9.6h-9.6z" opacity="0.44"/><path d="M162.5 467.6l4.8 9.6h-9.6z" opacity="0.69"/><path d="M157.3 467.6l4.8 9.6h-9.6z" opacity="0.69"/><path d="M151.5 467.6l4.8 9.6h-9.6z" opacity="0.69"/><path d="M145.2 467.6l4.8 9.6h-9.6z" opacity="0.69"/><path d="M139.7 467.6l4.8 9.6h-9.6z" opacity="0.69"/><path d="M134.5 467.6l4.8 9.6h-9.6z" opacity="0.69"/><path d="M129.5 467.6l4.8 9.6h-9.6z" opacity="0.69"/><path d="M110.0 467.6l4.8 9.6h-9.6z" opacity="0.69"/><path d="M105.4 467.6l4.8 9.6h-9.6z" opacity="0.69"/><path d="M95.9 467.6l4.8 9.6h-9.6z" opacity="0.69"/><path d="M90.3 467.6l4.8 9.6h-9.6z" opacity="0.69"/><path d="M68.2 467.6l4.8 9.6h-9.6z" opacity="0.69"/><path d="M46.5 467.6l4.8 9.6h-9.6z" opacity="0.69"/><path d="M40.5 467.6l4.8 9.6h-9.6z" opacity="0.69"/></g>
<g fill="none" stroke="#fff" stroke-width="0.6" stroke-opacity="0.15"><path d="M40.5 467.6l4.8 9.6h-9.6z"/><path d="M46.5 467.6l4.8 9.6h-9.6z"/><path d="M68.2 467.6l4.8 9.6h-9.6z"/><path d="M90.3 467.6l4.8 9.6h-9.6z"/><path d="M95.9 467.6l4.8 9.6h-9.6z"/><path d="M105.4 467.6l4.8 9.6h-9.6z"/><path d="M110.0 467.6l4.8 9.6h-9.6z"/><path d="M129.5 467.6l4.8 9.6h-9.6z"/><path d="M134.5 467.6l4.8 9.6h-9.6z"/><path d="M139.7 467.6l4.8 9.6h-9.6z"/><path d="M145.2 467.6l4.8 9.6h-9.6z"/><path d="M151.5 467.6l4.8 9.6h-9.6z"/><path d="M157.3 467.6l4.8 9.6h-9.6z"/><path d="M162.5 467.6l4.8 9.6h-9.6z"/><path d="M171.6 467.6l4.8 9.6h-9.6z"/><path d="M176.0 467.6l4.8 9.6h-9.6z"/><path d="M200.3 467.6l4.8 9.6h-9.6z"/><path d="M205.5 467.6l4.8 9.6h-9.6z"/><path d="M210.3 467.6l4.8 9.6h-9.6z"/><path d="M214.5 467.6l4.8 9.6h-9.6z"/><path d="M223.8 467.6l4.8 9.6h-9.6z"/><path d="M229.1 467.6l4.8 9.6h-9.6z"/><path d="M234.3 467.6l4.8 9.6h-9.6z"/><path d="M239.7 467.6l4.8 9.6h-9.6z"/><path d="M245.6 467.6l4.8 9.6h-9.6z"/><path d="M250.0 467.6l4.8 9.6h-9.6z"/><path d="M254.3 467.6l4.8 9.6h-9.6z"/><path d="M258.6 467.6l4.8 9.6h-9.6z"/><path d="M263.0 467.6l4.8 9.6h-9.6z"/><path d="M268.0 467.6l4.8 9.6h-9.6z"/><path d="M272.3 467.6l4.8 9.6h-9.6z"/><path d="M276.5 467.6l4.8 9.6h-9.6z"/><path d="M281.0 467.6l4.8 9.6h-9.6z"/><path d="M285.4 467.6l4.8 9.6h-9.6z"/><path d="M291.4 467.6l4.8 9.6h-9.6z"/><path d="M297.4 467.6l4.8 9.6h-9.6z"/><path d="M302.0 467.6l4.8 9.6h-9.6z"/><path d="M306.5 467.6l4.8 9.6h-9.6z"/><path d="M310.8 467.6l4.8 9.6h-9.6z"/><path d="M314.9 467.6l4.8 9.6h-9.6z"/><path d="M40.5 439.5l4.8 9.6h-9.6z"/><path d="M47.1 439.5l4.8 9.6h-9.6z"/><path d="M90.3 439.5l4.8 9.6h-9.6z"/><path d="M95.9 439.5l4.8 9.6h-9.6z"/><path d="M105.4 439.5l4.8 9.6h-9.6z"/><path d="M110.0 439.5l4.8 9.6h-9.6z"/><path d="M145.0 439.5l4.8 9.6h-9.6z"/><path d="M151.5 439.5l4.8 9.6h-9.6z"/><path d="M157.5 439.5l4.8 9.6h-9.6z"/><path d="M162.1 439.5l4.8 9.6h-9.6z"/><path d="M189.6 439.5l4.8 9.6h-9.6z"/><path d="M200.3 439.5l4.8 9.6h-9.6z"/><path d="M210.3 439.5l4.8 9.6h-9.6z"/><path d="M214.5 439.5l4.8 9.6h-9.6z"/><path d="M218.6 439.5l4.8 9.6h-9.6z"/><path d="M223.8 439.5l4.8 9.6h-9.6z"/><path d="M229.1 439.5l4.8 9.6h-9.6z"/><path d="M234.3 439.5l4.8 9.6h-9.6z"/><path d="M239.7 439.5l4.8 9.6h-9.6z"/><path d="M245.6 439.5l4.8 9.6h-9.6z"/><path d="M250.0 439.5l4.8 9.6h-9.6z"/><path d="M254.3 439.5l4.8 9.6h-9.6z"/><path d="M258.6 439.5l4.8 9.6h-9.6z"/><path d="M263.0 439.5l4.8 9.6h-9.6z"/><path d="M268.0 439.5l4.8 9.6h-9.6z"/><path d="M272.3 439.5l4.8 9.6h-9.6z"/><path d="M276.5 439.5l4.8 9.6h-9.6z"/><path d="M281.0 439.5l4.8 9.6h-9.6z"/><path d="M285.4 439.5l4.8 9.6h-9.6z"/><path d="M291.4 439.5l4.8 9.6h-9.6z"/><path d="M297.4 439.5l4.8 9.6h-9.6z"/><path d="M302.0 439.5l4.8 9.6h-9.6z"/><path d="M306.5 439.5l4.8 9.6h-9.6z"/><path d="M310.8 439.5l4.8 9.6h-9.6z"/><path d="M314.9 439.5l4.8 9.6h-9.6z"/><path d="M319.2 439.5l4.8 9.6h-9.6z"/><path d="M323.5 439.5l4.8 9.6h-9.6z"/><path d="M90.0 411.5l4.8 9.6h-9.6z"/><path d="M194.5 411.5l4.8 9.6h-9.6z"/><path d="M200.3 411.5l4.8 9.6h-9.6z"/><path d="M205.5 411.5l4.8 9.6h-9.6z"/><path d="M210.3 411.5l4.8 9.6h-9.6z"/><path d="M214.5 411.5l4.8 9.6h-9.6z"/><path d="M223.8 411.5l4.8 9.6h-9.6z"/><path d="M234.3 411.5l4.8 9.6h-9.6z"/><path d="M239.7 411.5l4.8 9.6h-9.6z"/><path d="M250.0 411.5l4.8 9.6h-9.6z"/><path d="M254.3 411.5l4.8 9.6h-9.6z"/><path d="M263.0 411.5l4.8 9.6h-9.6z"/><path d="M272.3 411.5l4.8 9.6h-9.6z"/><path d="M276.5 411.5l4.8 9.6h-9.6z"/><path d="M281.0 411.5l4.8 9.6h-9.6z"/><path d="M285.4 411.5l4.8 9.6h-9.6z"/><path d="M291.4 411.5l4.8 9.6h-9.6z"/><path d="M297.4 411.5l4.8 9.6h-9.6z"/><path d="M302.0 411.5l4.8 9.6h-9.6z"/><path d="M310.8 411.5l4.8 9.6h-9.6z"/><path d="M319.2 411.5l4.8 9.6h-9.6z"/><path d="M227.0 383.5l4.8 9.6h-9.6z"/><path d="M240.5 383.5l4.8 9.6h-9.6z"/><path d="M306.5 383.5l4.8 9.6h-9.6z"/></g>
<path d="M41.2 455.0L137.2 448.3L233.3 440.8L278.2 436.4L323.1 431.5L323.1 438.3L278.2 441.4L233.3 444.8L137.2 454.1L41.2 464.2Z" fill="#4878d0" fill-opacity="0.15"/>
<path d="M41.2 459.6L323.1 434.9" stroke="#4270cb" stroke-width="2.9" stroke-linecap="square" fill="none"/>
<path d="M41.2 463.6L137.2 457.8L233.3 450.9L278.2 447.1L323.1 442.9L323.1 449.7L278.2 452.1L233.3 454.9L137.2 462.2L41.2 470.5Z" fill="#ee854a" fill-opacity="0.15"/>
<path d="M41.2 467.0L323.1 446.3" stroke="#ea7f44" stroke-width="2.9" stroke-linecap="square" fill="none"/>
<rect x="26.4" y="290.5" width="311.2" height="223.6" fill="none" stroke="#e1e1e1" stroke-width="1.2"/>
<text transform="translate(88.94 527.70) scale(1.0,1.0)" font-size="10.3" text-anchor="middle" stroke="#262626" stroke-width="0.22">−2</text>
<text transform="translate(154.27 527.70) scale(1.0,1.0)" font-size="10.3" text-anchor="middle" stroke="#262626" stroke-width="0.22">−1</text>
<text transform="translate(219.60 527.70) scale(1.0,1.0)" font-size="10.3" text-anchor="middle" stroke="#262626" stroke-width="0.22">0</text>
<text transform="translate(284.93 527.70) scale(1.0,1.0)" font-size="10.3" text-anchor="middle" stroke="#262626" stroke-width="0.22">1</text>
<text transform="translate(19.10 504.15) scale(1.0,1.0)" font-size="10.3" text-anchor="end" stroke="#262626" stroke-width="0.22">0</text>
<text transform="translate(19.10 476.12) scale(1.0,1.0)" font-size="10.3" text-anchor="end" stroke="#262626" stroke-width="0.22">1</text>
<text transform="translate(19.10 448.09) scale(1.0,1.0)" font-size="10.3" text-anchor="end" stroke="#262626" stroke-width="0.22">2</text>
<text transform="translate(19.10 420.06) scale(1.0,1.0)" font-size="10.3" text-anchor="end" stroke="#262626" stroke-width="0.22">3</text>
<text transform="translate(19.10 392.03) scale(1.0,1.0)" font-size="10.3" text-anchor="end" stroke="#262626" stroke-width="0.22">4</text>
<text transform="translate(19.10 364.00) scale(1.0,1.0)" font-size="10.3" text-anchor="end" stroke="#262626" stroke-width="0.22">5</text>
<text transform="translate(19.10 335.97) scale(1.0,1.0)" font-size="10.3" text-anchor="end" stroke="#262626" stroke-width="0.22">6</text>
<text transform="translate(19.10 307.94) scale(1.0,1.0)" font-size="10.3" text-anchor="end" stroke="#262626" stroke-width="0.22">7</text>
<text transform="translate(182.00 540.70) scale(1.0,1.05)" font-size="9.7" text-anchor="middle" stroke="#262626" stroke-width="0.22">Event Centrality</text>
<text transform="translate(8.10 402.30) rotate(-90) scale(1.0,1.05)" font-size="9.7" text-anchor="middle" stroke="#262626" stroke-width="0.22">Central Details</text>
<text transform="translate(182.00 284.70) scale(1.0,1.0)" font-size="11.7" text-anchor="middle" stroke="#262626" stroke-width="0.22">Day 8_multiple</text>
<rect x="31.3" y="295.6" width="49.2" height="43.9" rx="1.4" fill="#fff" fill-opacity="0.8" stroke="#d9d9d9" stroke-width="0.9"/>
<text transform="translate(55.90 306.80) scale(1.0,1.05)" font-size="9.9" text-anchor="middle" stroke="#262626" stroke-width="0.22">Group</text>
<circle cx="45.0" cy="318.0" r="4.4" fill="#4878d0" fill-opacity="0.3"/>
<text transform="translate(62.30 319.70) scale(1.0,1.06)" font-size="9.5" text-anchor="start" stroke="#262626" stroke-width="0.22">YA</text>
<path d="M45.0 327.5L49.4 336.3H40.6Z" fill="#ee854a" fill-opacity="0.3"/>
<text transform="translate(62.30 333.60) scale(1.0,1.06)" font-size="9.5" text-anchor="start" stroke="#262626" stroke-width="0.22">OA</text>
</g>
<g>
<path d="M435.74 290.50V514.10M501.07 290.50V514.10M566.40 290.50V514.10M631.73 290.50V514.10M372.60 500.40H683.80M372.60 472.37H683.80M372.60 444.34H683.80M372.60 416.31H683.80M372.60 388.28H683.80M372.60 360.25H683.80M372.60 332.22H683.80M372.60 304.19H683.80" stroke="#d3d3d3" stroke-width="0.8" stroke-dasharray="2.95 1.12" fill="none"/>
<g fill="#4878d0" stroke="#fff" stroke-width="0.6" stroke-linejoin="miter"><circle cx="560.4" cy="500.4" r="4.8" opacity="0.44"/><circle cx="593.3" cy="500.4" r="4.8" opacity="0.32"/><circle cx="597.3" cy="500.4" r="4.8" opacity="0.54"/><circle cx="600.3" cy="500.4" r="4.8" opacity="0.32"/><circle cx="603.8" cy="500.4" r="4.8" opacity="0.32"/><circle cx="639.4" cy="500.4" r="4.8" opacity="0.32"/><circle cx="669.9" cy="500.4" r="4.8" opacity="0.32"/><circle cx="387.1" cy="472.4" r="4.8" opacity="0.54"/><circle cx="393.1" cy="472.4" r="4.8" opacity="0.32"/><circle cx="406.6" cy="472.4" r="4.8" opacity="0.32"/><circle cx="414.2" cy="472.4" r="4.8" opacity="0.54"/><circle cx="430.3" cy="472.4" r="4.8" opacity="0.54"/><circle cx="436.3" cy="472.4" r="4.8" opacity="0.54"/><circle cx="440.7" cy="472.4" r="4.8" opacity="0.54"/><circle cx="454.0" cy="472.4" r="4.8" opacity="0.54"/><circle cx="478.5" cy="472.4" r="4.8" opacity="0.32"/><circle cx="483.5" cy="472.4" r="4.8" opacity="0.32"/><circle cx="490.5" cy="472.4" r="4.8" opacity="0.54"/><circle cx="497.3" cy="472.4" r="4.8" opacity="0.54"/><circle cx="503.3" cy="472.4" r="4.8" opacity="0.69"/><circle cx="508.8" cy="472.4" r="4.8" opacity="0.54"/><circle cx="517.8" cy="472.4" r="4.8" opacity="0.54"/><circle cx="522.6" cy="472.4" r="4.8" opacity="0.54"/><circle cx="535.4" cy="472.4" r="4.8" opacity="0.62"/><circle cx="540.3" cy="472.4" r="4.8" opacity="0.44"/><circle cx="546.1" cy="472.4" r="4.8" opacity="0.54"/><circle cx="551.3" cy="472.4" r="4.8" opacity="0.69"/><circle cx="556.1" cy="472.4" r="4.8" opacity="0.85"/><circle cx="560.3" cy="472.4" r="4.8" opacity="0.79"/><circle cx="564.4" cy="472.4" r="4.8" opacity="0.54"/><circle cx="569.6" cy="472.4" r="4.8" opacity="0.69"/><circle cx="574.9" cy="472.4" r="4.8" opacity="0.62"/><circle cx="580.1" cy="472.4" r="4.8" opacity="0.85"/><circle cx="585.5" cy="472.4" r="4.8" opacity="0.79"/><circle cx="591.4" cy="472.4" r="4.8" opacity="0.62"/><circle cx="595.8" cy="472.4" r="4.8" opacity="0.44"/><circle cx="600.1" cy="472.4" r="4.8" opacity="0.79"/><circle cx="604.4" cy="472.4" r="4.8" opacity="0.69"/><circle cx="608.8" cy="472.4" r="4.8" opacity="0.69"/><circle cx="613.8" cy="472.4" r="4.8" opacity="0.54"/><circle cx="618.1" cy="472.4" r="4.8" opacity="0.44"/><circle cx="622.3" cy="472.4" r="4.8" opacity="0.62"/><circle cx="626.8" cy="472.4" r="4.8" opacity="0.79"/><circle cx="631.2" cy="472.4" r="4.8" opacity="0.85"/><circle cx="637.2" cy="472.4" r="4.8" opacity="0.44"/><circle cx="643.2" cy="472.4" r="4.8" opacity="0.69"/><circle cx="647.8" cy="472.4" r="4.8" opacity="0.62"/><circle cx="652.3" cy="472.4" r="4.8" opacity="0.69"/><circle cx="656.6" cy="472.4" r="4.8" opacity="0.54"/><circle cx="660.7" cy="472.4" r="4.8" opacity="0.85"/><circle cx="665.0" cy="472.4" r="4.8" opacity="0.44"/><circle cx="669.9" cy="472.4" r="4.8" opacity="0.54"/><circle cx="387.1" cy="444.3" r="4.8" opacity="0.54"/><circle cx="393.1" cy="444.3" r="4.8" opacity="0.32"/><circle cx="436.3" cy="444.3" r="4.8" opacity="0.32"/><circle cx="442.3" cy="444.3" r="4.8" opacity="0.32"/><circle cx="453.4" cy="444.3" r="4.8" opacity="0.54"/><circle cx="470.4" cy="444.3" r="4.8" opacity="0.32"/><circle cx="476.3" cy="444.3" r="4.8" opacity="0.32"/><circle cx="480.9" cy="444.3" r="4.8" opacity="0.44"/><circle cx="490.5" cy="444.3" r="4.8" opacity="0.32"/><circle cx="497.3" cy="444.3" r="4.8" opacity="0.54"/><circle cx="502.8" cy="444.3" r="4.8" opacity="0.32"/><circle cx="508.1" cy="444.3" r="4.8" opacity="0.54"/><circle cx="517.8" cy="444.3" r="4.8" opacity="0.54"/><circle cx="522.6" cy="444.3" r="4.8" opacity="0.54"/><circle cx="535.4" cy="444.3" r="4.8" opacity="0.79"/><circle cx="540.3" cy="444.3" r="4.8" opacity="0.46"/><circle cx="546.1" cy="444.3" r="4.8" opacity="0.37"/><circle cx="551.3" cy="444.3" r="4.8" opacity="0.60"/><circle cx="556.1" cy="444.3" r="4.8" opacity="0.46"/><circle cx="560.3" cy="444.3" r="4.8" opacity="0.60"/><circle cx="564.4" cy="444.3" r="4.8" opacity="0.79"/><circle cx="569.6" cy="444.3" r="4.8" opacity="0.37"/><circle cx="574.9" cy="444.3" r="4.8" opacity="0.79"/><circle cx="580.1" cy="444.3" r="4.8" opacity="0.79"/><circle cx="585.5" cy="444.3" r="4.8" opacity="0.54"/><circle cx="591.4" cy="444.3" r="4.8" opacity="0.71"/><circle cx="595.8" cy="444.3" r="4.8" opacity="0.46"/><circle cx="600.1" cy="444.3" r="4.8" opacity="0.60"/><circle cx="604.4" cy="444.3" r="4.8" opacity="0.79"/><circle cx="608.8" cy="444.3" r="4.8" opacity="0.71"/><circle cx="613.8" cy="444.3" r="4.8" opacity="0.37"/><circle cx="618.1" cy="444.3" r="4.8" opacity="0.71"/><circle cx="622.3" cy="444.3" r="4.8" opacity="0.79"/><circle cx="626.8" cy="444.3" r="4.8" opacity="0.79"/><circle cx="631.2" cy="444.3" r="4.8" opacity="0.46"/><circle cx="637.2" cy="444.3" r="4.8" opacity="0.71"/><circle cx="643.2" cy="444.3" r="4.8" opacity="0.79"/><circle cx="647.8" cy="444.3" r="4.8" opacity="0.46"/><circle cx="652.3" cy="444.3" r="4.8" opacity="0.37"/><circle cx="656.6" cy="444.3" r="4.8" opacity="0.37"/><circle cx="660.7" cy="444.3" r="4.8" opacity="0.79"/><circle cx="665.0" cy="444.3" r="4.8" opacity="0.37"/><circle cx="669.9" cy="444.3" r="4.8" opacity="0.32"/><circle cx="455.4" cy="416.3" r="4.8" opacity="0.32"/><circle cx="491.3" cy="416.3" r="4.8" opacity="0.32"/><circle cx="496.1" cy="416.3" r="4.8" opacity="0.44"/><circle cx="501.1" cy="416.3" r="4.8" opacity="0.32"/><circle cx="519.2" cy="416.3" r="4.8" opacity="0.54"/><circle cx="536.3" cy="416.3" r="4.8" opacity="0.32"/><circle cx="541.1" cy="416.3" r="4.8" opacity="0.32"/><circle cx="546.8" cy="416.3" r="4.8" opacity="0.54"/><circle cx="551.8" cy="416.3" r="4.8" opacity="0.54"/><circle cx="556.3" cy="416.3" r="4.8" opacity="0.54"/><circle cx="561.3" cy="416.3" r="4.8" opacity="0.32"/><circle cx="565.8" cy="416.3" r="4.8" opacity="0.54"/><circle cx="570.8" cy="416.3" r="4.8" opacity="0.54"/><circle cx="575.8" cy="416.3" r="4.8" opacity="0.69"/><circle cx="580.8" cy="416.3" r="4.8" opacity="0.32"/><circle cx="585.8" cy="416.3" r="4.8" opacity="0.54"/><circle cx="590.8" cy="416.3" r="4.8" opacity="0.69"/><circle cx="595.8" cy="416.3" r="4.8" opacity="0.69"/><circle cx="608.6" cy="416.3" r="4.8" opacity="0.32"/><circle cx="613.3" cy="416.3" r="4.8" opacity="0.54"/><circle cx="617.8" cy="416.3" r="4.8" opacity="0.54"/><circle cx="622.8" cy="416.3" r="4.8" opacity="0.54"/><circle cx="627.8" cy="416.3" r="4.8" opacity="0.32"/><circle cx="632.8" cy="416.3" r="4.8" opacity="0.54"/><circle cx="637.3" cy="416.3" r="4.8" opacity="0.32"/><circle cx="641.8" cy="416.3" r="4.8" opacity="0.32"/><circle cx="648.4" cy="416.3" r="4.8" opacity="0.32"/><circle cx="661.5" cy="416.3" r="4.8" opacity="0.54"/><circle cx="669.9" cy="416.3" r="4.8" opacity="0.32"/><circle cx="387.1" cy="388.3" r="4.8" opacity="0.32"/><circle cx="452.8" cy="388.3" r="4.8" opacity="0.32"/><circle cx="492.1" cy="388.3" r="4.8" opacity="0.32"/><circle cx="548.3" cy="388.3" r="4.8" opacity="0.32"/><circle cx="553.8" cy="388.3" r="4.8" opacity="0.32"/><circle cx="568.0" cy="388.3" r="4.8" opacity="0.32"/><circle cx="574.9" cy="388.3" r="4.8" opacity="0.32"/><circle cx="586.5" cy="388.3" r="4.8" opacity="0.69"/><circle cx="594.5" cy="388.3" r="4.8" opacity="0.54"/><circle cx="601.0" cy="388.3" r="4.8" opacity="0.69"/><circle cx="617.3" cy="388.3" r="4.8" opacity="0.32"/><circle cx="661.5" cy="388.3" r="4.8" opacity="0.54"/><circle cx="547.3" cy="360.2" r="4.8" opacity="0.32"/><circle cx="553.4" cy="360.2" r="4.8" opacity="0.54"/><circle cx="591.3" cy="360.2" r="4.8" opacity="0.32"/><circle cx="622.3" cy="360.2" r="4.8" opacity="0.54"/><circle cx="627.4" cy="360.2" r="4.8" opacity="0.32"/><circle cx="632.0" cy="360.2" r="4.8" opacity="0.32"/><circle cx="639.4" cy="360.2" r="4.8" opacity="0.32"/><circle cx="652.5" cy="360.2" r="4.8" opacity="0.32"/><circle cx="669.9" cy="360.2" r="4.8" opacity="0.32"/></g>
<g fill="#ee854a" stroke="#fff" stroke-width="0.6" stroke-linejoin="miter"><path d="M491.5 495.6l4.8 9.6h-9.6z" opacity="0.32"/><path d="M506.5 495.6l4.8 9.6h-9.6z" opacity="0.32"/><path d="M545.3 495.6l4.8 9.6h-9.6z" opacity="0.32"/><path d="M572.8 495.6l4.8 9.6h-9.6z" opacity="0.32"/><path d="M586.4 495.6l4.8 9.6h-9.6z" opacity="0.32"/><path d="M593.3 495.6l4.8 9.6h-9.6z" opacity="0.32"/><path d="M603.8 495.6l4.8 9.6h-9.6z" opacity="0.32"/><path d="M661.5 495.6l4.8 9.6h-9.6z" opacity="0.32"/><path d="M387.1 467.6l4.8 9.6h-9.6z" opacity="0.69"/><path d="M393.1 467.6l4.8 9.6h-9.6z" opacity="0.54"/><path d="M406.6 467.6l4.8 9.6h-9.6z" opacity="0.32"/><path d="M414.2 467.6l4.8 9.6h-9.6z" opacity="0.69"/><path d="M436.3 467.6l4.8 9.6h-9.6z" opacity="0.32"/><path d="M440.7 467.6l4.8 9.6h-9.6z" opacity="0.69"/><path d="M454.0 467.6l4.8 9.6h-9.6z" opacity="0.69"/><path d="M478.5 467.6l4.8 9.6h-9.6z" opacity="0.69"/><path d="M483.5 467.6l4.8 9.6h-9.6z" opacity="0.32"/><path d="M490.5 467.6l4.8 9.6h-9.6z" opacity="0.69"/><path d="M497.3 467.6l4.8 9.6h-9.6z" opacity="0.69"/><path d="M503.3 467.6l4.8 9.6h-9.6z" opacity="0.69"/><path d="M508.8 467.6l4.8 9.6h-9.6z" opacity="0.69"/><path d="M517.8 467.6l4.8 9.6h-9.6z" opacity="0.54"/><path d="M522.6 467.6l4.8 9.6h-9.6z" opacity="0.54"/><path d="M535.4 467.6l4.8 9.6h-9.6z" opacity="0.66"/><path d="M540.3 467.6l4.8 9.6h-9.6z" opacity="0.73"/><path d="M546.1 467.6l4.8 9.6h-9.6z" opacity="0.79"/><path d="M551.3 467.6l4.8 9.6h-9.6z" opacity="0.73"/><path d="M556.1 467.6l4.8 9.6h-9.6z" opacity="0.73"/><path d="M560.3 467.6l4.8 9.6h-9.6z" opacity="0.66"/><path d="M564.4 467.6l4.8 9.6h-9.6z" opacity="0.66"/><path d="M569.6 467.6l4.8 9.6h-9.6z" opacity="0.79"/><path d="M574.9 467.6l4.8 9.6h-9.6z" opacity="0.84"/><path d="M580.1 467.6l4.8 9.6h-9.6z" opacity="0.73"/><path d="M585.5 467.6l4.8 9.6h-9.6z" opacity="0.66"/><path d="M591.4 467.6l4.8 9.6h-9.6z" opacity="0.54"/><path d="M595.8 467.6l4.8 9.6h-9.6z" opacity="0.73"/><path d="M600.1 467.6l4.8 9.6h-9.6z" opacity="0.66"/><path d="M604.4 467.6l4.8 9.6h-9.6z" opacity="0.66"/><path d="M608.8 467.6l4.8 9.6h-9.6z" opacity="0.84"/><path d="M613.8 467.6l4.8 9.6h-9.6z" opacity="0.79"/><path d="M618.1 467.6l4.8 9.6h-9.6z" opacity="0.79"/><path d="M622.3 467.6l4.8 9.6h-9.6z" opacity="0.79"/><path d="M626.8 467.6l4.8 9.6h-9.6z" opacity="0.54"/><path d="M631.2 467.6l4.8 9.6h-9.6z" opacity="0.79"/><path d="M637.2 467.6l4.8 9.6h-9.6z" opacity="0.66"/><path d="M643.2 467.6l4.8 9.6h-9.6z" opacity="0.54"/><path d="M647.8 467.6l4.8 9.6h-9.6z" opacity="0.84"/><path d="M652.3 467.6l4.8 9.6h-9.6z" opacity="0.84"/><path d="M656.6 467.6l4.8 9.6h-9.6z" opacity="0.73"/><path d="M660.7 467.6l4.8 9.6h-9.6z" opacity="0.79"/><path d="M665.0 467.6l4.8 9.6h-9.6z" opacity="0.54"/><path d="M669.9 467.6l4.8 9.6h-9.6z" opacity="0.54"/><path d="M387.1 439.5l4.8 9.6h-9.6z" opacity="0.54"/><path d="M407.2 439.5l4.8 9.6h-9.6z" opacity="0.32"/><path d="M436.3 439.5l4.8 9.6h-9.6z" opacity="0.54"/><path d="M453.4 439.5l4.8 9.6h-9.6z" opacity="0.54"/><path d="M490.5 439.5l4.8 9.6h-9.6z" opacity="0.54"/><path d="M497.3 439.5l4.8 9.6h-9.6z" opacity="0.54"/><path d="M502.8 439.5l4.8 9.6h-9.6z" opacity="0.54"/><path d="M508.1 439.5l4.8 9.6h-9.6z" opacity="0.32"/><path d="M517.8 439.5l4.8 9.6h-9.6z" opacity="0.32"/><path d="M522.6 439.5l4.8 9.6h-9.6z" opacity="0.32"/><path d="M535.4 439.5l4.8 9.6h-9.6z" opacity="0.49"/><path d="M540.3 439.5l4.8 9.6h-9.6z" opacity="0.49"/><path d="M546.1 439.5l4.8 9.6h-9.6z" opacity="0.44"/><path d="M551.3 439.5l4.8 9.6h-9.6z" opacity="0.44"/><path d="M556.1 439.5l4.8 9.6h-9.6z" opacity="0.50"/><path d="M560.3 439.5l4.8 9.6h-9.6z" opacity="0.56"/><path d="M564.4 439.5l4.8 9.6h-9.6z" opacity="0.50"/><path d="M569.6 439.5l4.8 9.6h-9.6z" opacity="0.56"/><path d="M574.9 439.5l4.8 9.6h-9.6z" opacity="0.49"/><path d="M580.1 439.5l4.8 9.6h-9.6z" opacity="0.49"/><path d="M585.5 439.5l4.8 9.6h-9.6z" opacity="0.60"/><path d="M591.4 439.5l4.8 9.6h-9.6z" opacity="0.49"/><path d="M595.8 439.5l4.8 9.6h-9.6z" opacity="0.44"/><path d="M600.1 439.5l4.8 9.6h-9.6z" opacity="0.49"/><path d="M604.4 439.5l4.8 9.6h-9.6z" opacity="0.60"/><path d="M608.8 439.5l4.8 9.6h-9.6z" opacity="0.37"/><path d="M613.8 439.5l4.8 9.6h-9.6z" opacity="0.49"/><path d="M618.1 439.5l4.8 9.6h-9.6z" opacity="0.49"/><path d="M622.3 439.5l4.8 9.6h-9.6z" opacity="0.60"/><path d="M626.8 439.5l4.8 9.6h-9.6z" opacity="0.49"/><path d="M631.2 439.5l4.8 9.6h-9.6z" opacity="0.50"/><path d="M637.2 439.5l4.8 9.6h-9.6z" opacity="0.50"/><path d="M643.2 439.5l4.8 9.6h-9.6z" opacity="0.37"/><path d="M647.8 439.5l4.8 9.6h-9.6z" opacity="0.44"/><path d="M652.3 439.5l4.8 9.6h-9.6z" opacity="0.49"/><path d="M656.6 439.5l4.8 9.6h-9.6z" opacity="0.56"/><path d="M660.7 439.5l4.8 9.6h-9.6z" opacity="0.49"/><path d="M665.0 439.5l4.8 9.6h-9.6z" opacity="0.37"/><path d="M451.4 411.5l4.8 9.6h-9.6z" opacity="0.32"/><path d="M455.4 411.5l4.8 9.6h-9.6z" opacity="0.32"/><path d="M507.1 411.5l4.8 9.6h-9.6z" opacity="0.32"/><path d="M536.3 411.5l4.8 9.6h-9.6z" opacity="0.44"/><path d="M541.1 411.5l4.8 9.6h-9.6z" opacity="0.32"/><path d="M546.8 411.5l4.8 9.6h-9.6z" opacity="0.54"/><path d="M551.8 411.5l4.8 9.6h-9.6z" opacity="0.54"/><path d="M556.3 411.5l4.8 9.6h-9.6z" opacity="0.44"/><path d="M561.3 411.5l4.8 9.6h-9.6z" opacity="0.44"/><path d="M565.8 411.5l4.8 9.6h-9.6z" opacity="0.44"/><path d="M570.8 411.5l4.8 9.6h-9.6z" opacity="0.54"/><path d="M575.8 411.5l4.8 9.6h-9.6z" opacity="0.54"/><path d="M580.8 411.5l4.8 9.6h-9.6z" opacity="0.44"/><path d="M585.8 411.5l4.8 9.6h-9.6z" opacity="0.44"/><path d="M590.8 411.5l4.8 9.6h-9.6z" opacity="0.54"/><path d="M595.8 411.5l4.8 9.6h-9.6z" opacity="0.32"/><path d="M608.6 411.5l4.8 9.6h-9.6z" opacity="0.32"/><path d="M613.3 411.5l4.8 9.6h-9.6z" opacity="0.32"/><path d="M617.8 411.5l4.8 9.6h-9.6z" opacity="0.54"/><path d="M622.8 411.5l4.8 9.6h-9.6z" opacity="0.44"/><path d="M627.8 411.5l4.8 9.6h-9.6z" opacity="0.54"/><path d="M632.8 411.5l4.8 9.6h-9.6z" opacity="0.54"/><path d="M637.3 411.5l4.8 9.6h-9.6z" opacity="0.44"/><path d="M641.8 411.5l4.8 9.6h-9.6z" opacity="0.54"/><path d="M653.5 411.5l4.8 9.6h-9.6z" opacity="0.54"/><path d="M661.5 411.5l4.8 9.6h-9.6z" opacity="0.32"/><path d="M553.8 383.5l4.8 9.6h-9.6z" opacity="0.32"/><path d="M586.5 383.5l4.8 9.6h-9.6z" opacity="0.32"/><path d="M601.0 383.5l4.8 9.6h-9.6z" opacity="0.32"/><path d="M617.3 383.5l4.8 9.6h-9.6z" opacity="0.32"/><path d="M638.8 383.5l4.8 9.6h-9.6z" opacity="0.32"/><path d="M537.9 355.4l4.8 9.6h-9.6z" opacity="0.32"/><path d="M561.0 355.4l4.8 9.6h-9.6z" opacity="0.32"/><path d="M573.3 355.4l4.8 9.6h-9.6z" opacity="0.32"/><path d="M637.3 411.5l4.8 9.6h-9.6z" opacity="0.44"/><path d="M622.8 411.5l4.8 9.6h-9.6z" opacity="0.44"/><path d="M585.8 411.5l4.8 9.6h-9.6z" opacity="0.44"/><path d="M580.8 411.5l4.8 9.6h-9.6z" opacity="0.44"/><path d="M565.8 411.5l4.8 9.6h-9.6z" opacity="0.44"/><path d="M561.3 411.5l4.8 9.6h-9.6z" opacity="0.44"/><path d="M556.3 411.5l4.8 9.6h-9.6z" opacity="0.44"/><path d="M536.3 411.5l4.8 9.6h-9.6z" opacity="0.44"/><path d="M660.7 439.5l4.8 9.6h-9.6z" opacity="0.49"/><path d="M656.6 439.5l4.8 9.6h-9.6z" opacity="0.56"/><path d="M652.3 439.5l4.8 9.6h-9.6z" opacity="0.49"/><path d="M647.8 439.5l4.8 9.6h-9.6z" opacity="0.44"/><path d="M626.8 439.5l4.8 9.6h-9.6z" opacity="0.49"/><path d="M618.1 439.5l4.8 9.6h-9.6z" opacity="0.49"/><path d="M613.8 439.5l4.8 9.6h-9.6z" opacity="0.49"/><path d="M600.1 439.5l4.8 9.6h-9.6z" opacity="0.49"/><path d="M595.8 439.5l4.8 9.6h-9.6z" opacity="0.44"/><path d="M591.4 439.5l4.8 9.6h-9.6z" opacity="0.49"/><path d="M580.1 439.5l4.8 9.6h-9.6z" opacity="0.49"/><path d="M574.9 439.5l4.8 9.6h-9.6z" opacity="0.49"/><path d="M569.6 439.5l4.8 9.6h-9.6z" opacity="0.56"/><path d="M560.3 439.5l4.8 9.6h-9.6z" opacity="0.56"/><path d="M551.3 439.5l4.8 9.6h-9.6z" opacity="0.44"/><path d="M546.1 439.5l4.8 9.6h-9.6z" opacity="0.44"/><path d="M540.3 439.5l4.8 9.6h-9.6z" opacity="0.49"/><path d="M535.4 439.5l4.8 9.6h-9.6z" opacity="0.49"/><path d="M665.0 467.6l4.8 9.6h-9.6z" opacity="0.54"/><path d="M660.7 467.6l4.8 9.6h-9.6z" opacity="0.79"/><path d="M656.6 467.6l4.8 9.6h-9.6z" opacity="0.73"/><path d="M652.3 467.6l4.8 9.6h-9.6z" opacity="0.84"/><path d="M647.8 467.6l4.8 9.6h-9.6z" opacity="0.84"/><path d="M643.2 467.6l4.8 9.6h-9.6z" opacity="0.54"/><path d="M637.2 467.6l4.8 9.6h-9.6z" opacity="0.66"/><path d="M631.2 467.6l4.8 9.6h-9.6z" opacity="0.79"/><path d="M626.8 467.6l4.8 9.6h-9.6z" opacity="0.54"/><path d="M622.3 467.6l4.8 9.6h-9.6z" opacity="0.79"/><path d="M618.1 467.6l4.8 9.6h-9.6z" opacity="0.79"/><path d="M613.8 467.6l4.8 9.6h-9.6z" opacity="0.79"/><path d="M608.8 467.6l4.8 9.6h-9.6z" opacity="0.84"/><path d="M600.1 467.6l4.8 9.6h-9.6z" opacity="0.66"/><path d="M595.8 467.6l4.8 9.6h-9.6z" opacity="0.73"/><path d="M591.4 467.6l4.8 9.6h-9.6z" opacity="0.54"/><path d="M580.1 467.6l4.8 9.6h-9.6z" opacity="0.73"/><path d="M574.9 467.6l4.8 9.6h-9.6z" opacity="0.84"/><path d="M569.6 467.6l4.8 9.6h-9.6z" opacity="0.79"/><path d="M560.3 467.6l4.8 9.6h-9.6z" opacity="0.66"/><path d="M556.1 467.6l4.8 9.6h-9.6z" opacity="0.73"/><path d="M551.3 467.6l4.8 9.6h-9.6z" opacity="0.73"/><path d="M546.1 467.6l4.8 9.6h-9.6z" opacity="0.79"/><path d="M540.3 467.6l4.8 9.6h-9.6z" opacity="0.73"/><path d="M535.4 467.6l4.8 9.6h-9.6z" opacity="0.66"/><path d="M508.8 467.6l4.8 9.6h-9.6z" opacity="0.69"/><path d="M503.3 467.6l4.8 9.6h-9.6z" opacity="0.69"/><path d="M497.3 467.6l4.8 9.6h-9.6z" opacity="0.69"/><path d="M490.5 467.6l4.8 9.6h-9.6z" opacity="0.69"/><path d="M478.5 467.6l4.8 9.6h-9.6z" opacity="0.69"/><path d="M454.0 467.6l4.8 9.6h-9.6z" opacity="0.69"/><path d="M440.7 467.6l4.8 9.6h-9.6z" opacity="0.69"/><path d="M414.2 467.6l4.8 9.6h-9.6z" opacity="0.69"/><path d="M387.1 467.6l4.8 9.6h-9.6z" opacity="0.69"/></g>
<g fill="none" stroke="#fff" stroke-width="0.6" stroke-opacity="0.15"><path d="M387.1 467.6l4.8 9.6h-9.6z"/><path d="M414.2 467.6l4.8 9.6h-9.6z"/><path d="M440.7 467.6l4.8 9.6h-9.6z"/><path d="M454.0 467.6l4.8 9.6h-9.6z"/><path d="M478.5 467.6l4.8 9.6h-9.6z"/><path d="M490.5 467.6l4.8 9.6h-9.6z"/><path d="M497.3 467.6l4.8 9.6h-9.6z"/><path d="M503.3 467.6l4.8 9.6h-9.6z"/><path d="M508.8 467.6l4.8 9.6h-9.6z"/><path d="M535.4 467.6l4.8 9.6h-9.6z"/><path d="M540.3 467.6l4.8 9.6h-9.6z"/><path d="M546.1 467.6l4.8 9.6h-9.6z"/><path d="M551.3 467.6l4.8 9.6h-9.6z"/><path d="M556.1 467.6l4.8 9.6h-9.6z"/><path d="M560.3 467.6l4.8 9.6h-9.6z"/><path d="M569.6 467.6l4.8 9.6h-9.6z"/><path d="M574.9 467.6l4.8 9.6h-9.6z"/><path d="M580.1 467.6l4.8 9.6h-9.6z"/><path d="M591.4 467.6l4.8 9.6h-9.6z"/><path d="M595.8 467.6l4.8 9.6h-9.6z"/><path d="M600.1 467.6l4.8 9.6h-9.6z"/><path d="M608.8 467.6l4.8 9.6h-9.6z"/><path d="M613.8 467.6l4.8 9.6h-9.6z"/><path d="M618.1 467.6l4.8 9.6h-9.6z"/><path d="M622.3 467.6l4.8 9.6h-9.6z"/><path d="M626.8 467.6l4.8 9.6h-9.6z"/><path d="M631.2 467.6l4.8 9.6h-9.6z"/><path d="M637.2 467.6l4.8 9.6h-9.6z"/><path d="M643.2 467.6l4.8 9.6h-9.6z"/><path d="M647.8 467.6l4.8 9.6h-9.6z"/><path d="M652.3 467.6l4.8 9.6h-9.6z"/><path d="M656.6 467.6l4.8 9.6h-9.6z"/><path d="M660.7 467.6l4.8 9.6h-9.6z"/><path d="M665.0 467.6l4.8 9.6h-9.6z"/><path d="M535.4 439.5l4.8 9.6h-9.6z"/><path d="M540.3 439.5l4.8 9.6h-9.6z"/><path d="M546.1 439.5l4.8 9.6h-9.6z"/><path d="M551.3 439.5l4.8 9.6h-9.6z"/><path d="M560.3 439.5l4.8 9.6h-9.6z"/><path d="M569.6 439.5l4.8 9.6h-9.6z"/><path d="M574.9 439.5l4.8 9.6h-9.6z"/><path d="M580.1 439.5l4.8 9.6h-9.6z"/><path d="M591.4 439.5l4.8 9.6h-9.6z"/><path d="M595.8 439.5l4.8 9.6h-9.6z"/><path d="M600.1 439.5l4.8 9.6h-9.6z"/><path d="M613.8 439.5l4.8 9.6h-9.6z"/><path d="M618.1 439.5l4.8 9.6h-9.6z"/><path d="M626.8 439.5l4.8 9.6h-9.6z"/><path d="M647.8 439.5l4.8 9.6h-9.6z"/><path d="M652.3 439.5l4.8 9.6h-9.6z"/><path d="M656.6 439.5l4.8 9.6h-9.6z"/><path d="M660.7 439.5l4.8 9.6h-9.6z"/><path d="M536.3 411.5l4.8 9.6h-9.6z"/><path d="M556.3 411.5l4.8 9.6h-9.6z"/><path d="M561.3 411.5l4.8 9.6h-9.6z"/><path d="M565.8 411.5l4.8 9.6h-9.6z"/><path d="M580.8 411.5l4.8 9.6h-9.6z"/><path d="M585.8 411.5l4.8 9.6h-9.6z"/><path d="M622.8 411.5l4.8 9.6h-9.6z"/><path d="M637.3 411.5l4.8 9.6h-9.6z"/></g>
<path d="M387.4 458.0L483.4 453.4L579.5 448.0L624.5 444.5L669.6 440.7L669.6 447.5L624.5 449.5L579.5 452.0L483.4 459.2L387.4 467.2Z" fill="#4878d0" fill-opacity="0.15"/>
<path d="M387.4 462.6L669.6 444.1" stroke="#4270cb" stroke-width="2.9" stroke-linecap="square" fill="none"/>
<path d="M387.4 461.6L483.4 458.5L579.5 454.3L624.5 451.7L669.6 448.8L669.6 455.6L624.5 456.7L579.5 458.3L483.4 462.9L387.4 468.5Z" fill="#ee854a" fill-opacity="0.15"/>
<path d="M387.4 465.1L669.6 452.2" stroke="#ea7f44" stroke-width="2.9" stroke-linecap="square" fill="none"/>
<rect x="372.6" y="290.5" width="311.2" height="223.6" fill="none" stroke="#e1e1e1" stroke-width="1.2"/>
<text transform="translate(435.14 527.70) scale(1.0,1.0)" font-size="10.3" text-anchor="middle" stroke="#262626" stroke-width="0.22">−2</text>
<text transform="translate(500.47 527.70) scale(1.0,1.0)" font-size="10.3" text-anchor="middle" stroke="#262626" stroke-width="0.22">−1</text>
<text transform="translate(565.80 527.70) scale(1.0,1.0)" font-size="10.3" text-anchor="middle" stroke="#262626" stroke-width="0.22">0</text>
<text transform="translate(631.13 527.70) scale(1.0,1.0)" font-size="10.3" text-anchor="middle" stroke="#262626" stroke-width="0.22">1</text>
<text transform="translate(365.30 504.15) scale(1.0,1.0)" font-size="10.3" text-anchor="end" stroke="#262626" stroke-width="0.22">0</text>
<text transform="translate(365.30 476.12) scale(1.0,1.0)" font-size="10.3" text-anchor="end" stroke="#262626" stroke-width="0.22">1</text>
<text transform="translate(365.30 448.09) scale(1.0,1.0)" font-size="10.3" text-anchor="end" stroke="#262626" stroke-width="0.22">2</text>
<text transform="translate(365.30 420.06) scale(1.0,1.0)" font-size="10.3" text-anchor="end" stroke="#262626" stroke-width="0.22">3</text>
<text transform="translate(365.30 392.03) scale(1.0,1.0)" font-size="10.3" text-anchor="end" stroke="#262626" stroke-width="0.22">4</text>
<text transform="translate(365.30 364.00) scale(1.0,1.0)" font-size="10.3" text-anchor="end" stroke="#262626" stroke-width="0.22">5</text>
<text transform="translate(365.30 335.97) scale(1.0,1.0)" font-size="10.3" text-anchor="end" stroke="#262626" stroke-width="0.22">6</text>
<text transform="translate(365.30 307.94) scale(1.0,1.0)" font-size="10.3" text-anchor="end" stroke="#262626" stroke-width="0.22">7</text>
<text transform="translate(528.20 540.70) scale(1.0,1.05)" font-size="9.7" text-anchor="middle" stroke="#262626" stroke-width="0.22">Event Centrality</text>
<text transform="translate(354.30 402.30) rotate(-90) scale(1.0,1.05)" font-size="9.7" text-anchor="middle" stroke="#262626" stroke-width="0.22">Central Details</text>
<text transform="translate(528.20 284.70) scale(1.0,1.0)" font-size="11.7" text-anchor="middle" stroke="#262626" stroke-width="0.22">Day 8_one</text>
<rect x="629.7" y="295.6" width="49.2" height="43.9" rx="1.4" fill="#fff" fill-opacity="0.8" stroke="#d9d9d9" stroke-width="0.9"/>
<text transform="translate(654.30 306.80) scale(1.0,1.05)" font-size="9.9" text-anchor="middle" stroke="#262626" stroke-width="0.22">Group</text>
<circle cx="643.4" cy="318.0" r="4.4" fill="#4878d0" fill-opacity="0.3"/>
<text transform="translate(660.70 319.70) scale(1.0,1.06)" font-size="9.5" text-anchor="start" stroke="#262626" stroke-width="0.22">YA</text>
<path d="M643.4 327.5L647.8 336.3H639.0Z" fill="#ee854a" fill-opacity="0.3"/>
<text transform="translate(660.70 333.60) scale(1.0,1.06)" font-size="9.5" text-anchor="start" stroke="#262626" stroke-width="0.22">OA</text>
</g>
</svg>
</body></html>
